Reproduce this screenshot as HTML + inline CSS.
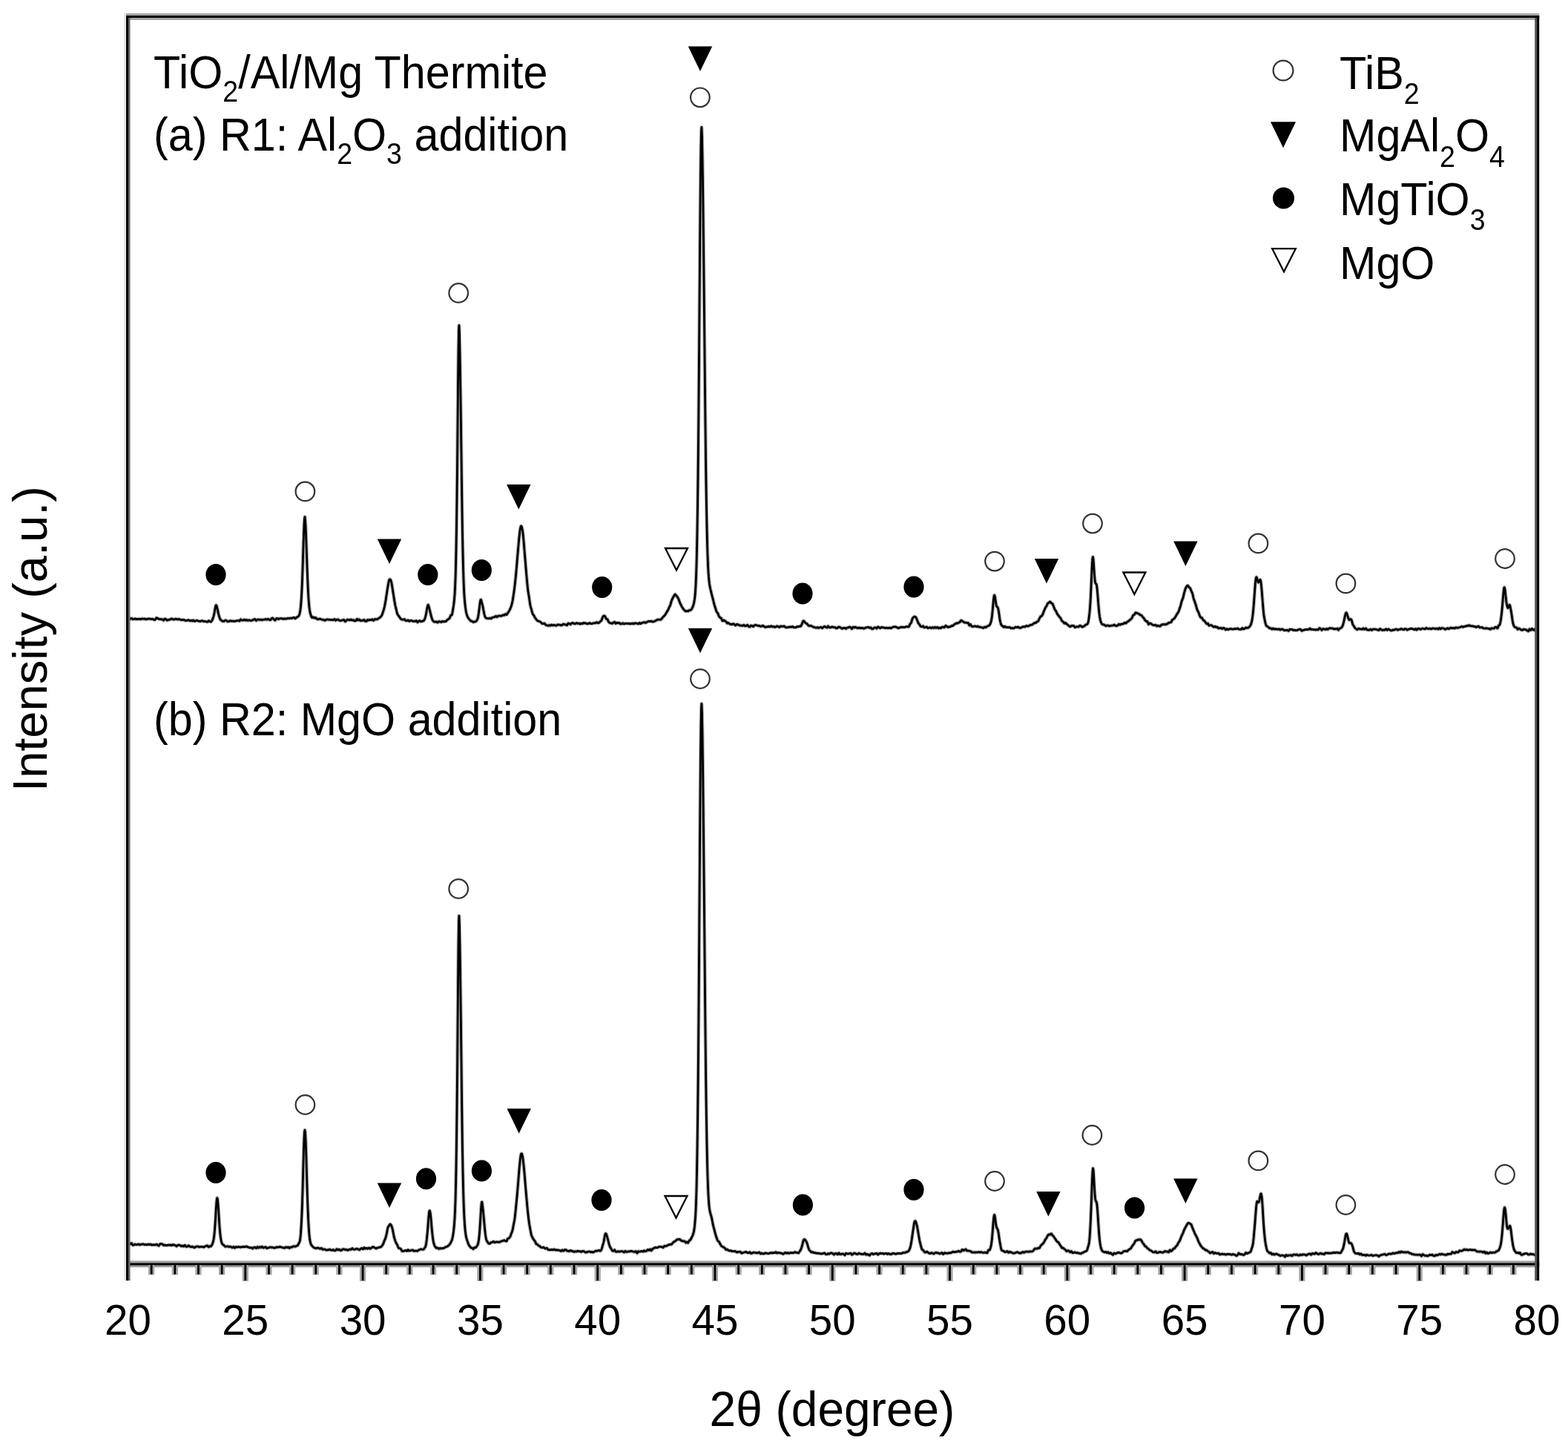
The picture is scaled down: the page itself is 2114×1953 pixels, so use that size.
<!DOCTYPE html>
<html><head><meta charset="utf-8"><title>XRD patterns</title>
<style>html,body{margin:0;padding:0;background:#fff;overflow:hidden}svg{display:block}.sb{font-size:37.5px}</style></head>
<body>
<svg width="2114" height="1953" viewBox="0 0 2114 1953">
<style>text{font-family:'Liberation Sans', Arial, Helvetica, sans-serif;fill:#000}.tl{font-size:56.5px}.lg{font-size:59.3px}.ax{font-size:64px}.ay{font-size:65px}</style>
<rect width="2114" height="1953" fill="#fff"/>
<defs><path id="sa" d="M174.0,834.6 174.5,834.5 175.0,834.4 175.5,834.3 176.0,834.0 176.5,833.7 177.0,833.3 177.5,833.3 178.0,833.8 178.5,834.3 179.0,834.7 179.5,834.6 180.0,834.5 180.5,834.4 181.0,834.2 181.5,834.0 182.0,833.8 182.5,834.0 183.0,834.2 183.5,834.5 184.0,834.5 184.5,834.5 185.0,834.5 185.5,834.4 186.0,834.4 186.5,834.4 187.0,834.4 187.5,834.3 188.0,834.3 188.5,834.2 189.0,834.4 189.5,834.5 190.0,834.6 190.5,834.4 191.0,834.1 191.5,833.9 192.0,833.8 192.5,834.0 193.0,834.1 193.5,834.2 194.0,834.1 194.5,834.0 195.0,834.0 195.5,834.3 196.0,834.5 196.5,834.8 197.0,834.7 197.5,834.5 198.0,834.4 198.5,834.3 199.0,834.3 199.5,834.2 200.0,834.1 200.5,834.0 201.0,833.9 201.5,833.9 202.0,834.0 202.5,834.2 203.0,834.3 203.5,834.3 204.0,834.4 204.5,834.5 205.0,834.4 205.5,834.4 206.0,834.3 206.5,834.6 207.0,834.9 207.5,835.3 208.0,835.4 208.5,835.3 209.0,835.3 209.5,834.9 210.0,834.1 210.5,833.3 211.0,832.7 211.5,832.9 212.0,833.1 212.5,833.3 213.0,833.7 213.5,834.0 214.0,834.4 214.5,834.5 215.0,834.4 215.5,834.4 216.0,834.4 216.5,834.6 217.0,834.7 217.5,834.8 218.0,834.8 218.5,834.8 219.0,834.9 219.5,835.3 220.0,835.8 220.5,836.2 221.0,835.5 221.5,834.8 222.0,834.1 222.5,834.1 223.0,834.3 223.5,834.4 224.0,834.8 224.5,835.4 225.0,835.9 225.5,836.1 226.0,835.8 226.5,835.5 227.0,835.3 227.5,835.3 228.0,835.3 228.5,835.3 229.0,835.0 229.5,834.8 230.0,834.5 230.5,834.3 231.0,834.1 231.5,833.8 232.0,834.0 232.5,834.4 233.0,834.8 233.5,835.0 234.0,835.0 234.5,835.0 235.0,834.9 235.5,834.7 236.0,834.4 236.5,834.1 237.0,834.2 237.5,834.3 238.0,834.5 238.5,834.6 239.0,834.7 239.5,834.9 240.0,834.8 240.5,834.7 241.0,834.5 241.5,834.5 242.0,834.8 242.5,835.0 243.0,835.2 243.5,835.3 244.0,835.3 244.5,835.4 245.0,835.5 245.5,835.5 246.0,835.5 246.5,835.5 247.0,835.4 247.5,835.3 248.0,835.4 248.5,835.7 249.0,836.0 249.5,836.2 250.0,836.3 250.5,836.4 251.0,836.5 251.5,836.4 252.0,836.3 252.5,836.2 253.0,836.0 253.5,835.8 254.0,835.6 254.5,835.9 255.0,836.2 255.5,836.6 256.0,836.6 256.5,836.4 257.0,836.2 257.5,836.2 258.0,836.5 258.5,836.8 259.0,837.0 259.5,836.7 260.0,836.3 260.5,835.9 261.0,836.4 261.5,836.8 262.0,837.3 262.5,837.3 263.0,837.1 263.5,836.9 264.0,836.7 264.5,836.5 265.0,836.3 265.5,836.2 266.0,836.5 266.5,836.7 267.0,836.9 267.5,837.0 268.0,837.1 268.5,837.3 269.0,837.3 269.5,837.4 270.0,837.5 270.5,837.3 271.0,837.1 271.5,836.8 272.0,836.7 272.5,836.7 273.0,836.7 273.5,836.9 274.0,837.2 274.5,837.5 275.0,837.7 275.5,837.6 276.0,837.5 276.5,837.4 277.0,837.5 277.5,837.7 278.0,837.9 278.5,838.0 279.0,838.1 279.5,838.2 280.0,838.0 280.5,837.4 281.0,836.9 281.5,836.7 282.0,837.1 282.5,837.4 283.0,837.7 283.5,837.9 284.0,838.0 284.5,838.0 285.0,837.4 285.5,836.7 286.0,835.9 286.5,834.9 287.0,833.6 287.5,832.1 288.0,830.3 288.5,828.3 289.0,826.0 289.5,823.2 290.0,820.2 290.5,817.6 291.0,816.0 291.4,815.7 291.5,815.8 292.0,816.6 292.5,818.4 293.0,820.3 293.5,822.6 294.0,825.0 294.5,827.2 295.0,829.2 295.5,830.8 296.0,832.3 296.5,833.7 297.0,834.8 297.5,835.6 298.0,835.9 298.5,836.1 299.0,836.4 299.5,836.8 300.0,837.2 300.5,837.5 301.0,837.4 301.5,837.4 302.0,837.3 302.5,837.0 303.0,836.6 303.5,836.2 304.0,836.1 304.5,836.2 305.0,836.3 305.5,836.5 306.0,837.0 306.5,837.4 307.0,837.8 307.5,837.7 308.0,837.7 308.5,837.6 309.0,837.3 309.5,837.0 310.0,836.7 310.5,836.7 311.0,836.8 311.5,837.0 312.0,837.1 312.5,837.1 313.0,837.2 313.5,837.2 314.0,837.2 314.5,837.2 315.0,837.2 315.5,837.3 316.0,837.3 316.5,837.4 317.0,837.2 317.5,837.1 318.0,836.9 318.5,836.8 319.0,836.7 319.5,836.6 320.0,836.5 320.5,836.4 321.0,836.4 321.5,836.4 322.0,836.7 322.5,837.0 323.0,837.0 323.5,836.3 324.0,835.5 324.5,834.8 325.0,835.2 325.5,835.6 326.0,836.0 326.5,836.1 327.0,836.2 327.5,836.2 328.0,836.0 328.5,835.6 329.0,835.3 329.5,835.2 330.0,835.5 330.5,835.9 331.0,836.2 331.5,835.9 332.0,835.7 332.5,835.5 333.0,835.8 333.5,836.1 334.0,836.4 334.5,836.3 335.0,836.0 335.5,835.8 336.0,835.8 336.5,836.0 337.0,836.1 337.5,836.3 338.0,836.4 338.5,836.5 339.0,836.5 339.5,836.3 340.0,836.1 340.5,835.9 341.0,835.6 341.5,835.3 342.0,835.0 342.5,834.8 343.0,834.7 343.5,834.5 344.0,834.9 344.5,835.6 345.0,836.3 345.5,836.5 346.0,836.1 346.5,835.7 347.0,835.3 347.5,835.2 348.0,835.0 348.5,834.9 349.0,835.0 349.5,835.2 350.0,835.4 350.5,835.3 351.0,835.2 351.5,835.1 352.0,835.2 352.5,835.4 353.0,835.6 353.5,835.7 354.0,835.5 354.5,835.3 355.0,835.1 355.5,835.1 356.0,835.1 356.5,835.1 357.0,834.9 357.5,834.7 358.0,834.5 358.5,834.7 359.0,834.9 359.5,835.2 360.0,835.0 360.5,834.7 361.0,834.4 361.5,834.3 362.0,834.6 362.5,835.0 363.0,835.3 363.5,835.5 364.0,835.6 364.5,835.8 365.0,835.1 365.5,834.4 366.0,833.7 366.5,833.4 367.0,833.2 367.5,833.0 368.0,833.3 368.5,833.9 369.0,834.6 369.5,835.1 370.0,835.5 370.5,835.9 371.0,836.1 371.5,835.3 372.0,834.5 372.5,833.7 373.0,833.6 373.5,833.5 374.0,833.5 374.5,833.7 375.0,834.1 375.5,834.5 376.0,834.4 376.5,834.1 377.0,833.8 377.5,833.6 378.0,833.6 378.5,833.7 379.0,833.7 379.5,833.7 380.0,833.7 380.5,833.8 381.0,833.9 381.5,834.1 382.0,834.3 382.5,834.2 383.0,834.0 383.5,833.8 384.0,833.8 384.5,833.9 385.0,834.1 385.5,834.1 386.0,834.0 386.5,833.9 387.0,833.8 387.5,833.6 388.0,833.4 388.5,833.3 389.0,833.4 389.5,833.5 390.0,833.5 390.5,833.4 391.0,833.3 391.5,833.1 392.0,833.1 392.5,833.3 393.0,833.5 393.5,833.4 394.0,833.1 394.5,832.8 395.0,832.6 395.5,832.5 396.0,832.4 396.5,832.3 397.0,832.8 397.5,833.2 398.0,833.7 398.5,833.4 399.0,832.9 399.5,832.4 400.0,832.0 400.5,831.8 401.0,831.5 401.5,831.2 402.0,830.9 402.5,830.5 403.0,829.8 403.5,828.6 404.0,826.9 404.5,824.5 405.0,821.5 405.5,817.2 406.0,811.3 406.5,803.5 407.0,793.5 407.5,781.4 408.0,767.2 408.5,751.5 409.0,735.4 409.5,720.1 410.0,707.5 410.5,699.3 411.0,696.6 411.0,696.7 411.5,700.2 412.0,708.4 412.5,720.2 413.0,733.4 413.5,747.9 414.0,762.3 414.5,776.0 415.0,788.2 415.5,798.5 416.0,806.9 416.5,813.5 417.0,818.6 417.5,822.4 418.0,825.2 418.5,827.3 419.0,828.8 419.5,830.3 420.0,831.5 420.5,832.4 421.0,832.3 421.5,832.0 422.0,831.7 422.5,832.0 423.0,832.6 423.5,833.0 424.0,833.0 424.5,832.7 425.0,832.3 425.5,832.3 426.0,832.9 426.5,833.5 427.0,834.0 427.5,834.3 428.0,834.6 428.5,834.8 429.0,834.7 429.5,834.5 430.0,834.3 430.5,834.2 431.0,834.2 431.5,834.2 432.0,834.3 432.5,834.5 433.0,834.8 433.5,835.0 434.0,835.1 434.5,835.2 435.0,835.3 435.5,835.4 436.0,835.4 436.5,835.4 437.0,835.7 437.5,836.1 438.0,836.4 438.5,836.1 439.0,835.8 439.5,835.4 440.0,835.2 440.5,835.0 441.0,834.9 441.5,834.8 442.0,835.0 442.5,835.1 443.0,835.2 443.5,835.2 444.0,835.2 444.5,835.3 445.0,835.3 445.5,835.4 446.0,835.4 446.5,835.4 447.0,835.4 447.5,835.4 448.0,835.4 448.5,835.5 449.0,835.6 449.5,835.4 450.0,835.1 450.5,834.7 451.0,834.5 451.5,835.0 452.0,835.6 452.5,836.2 453.0,835.9 453.5,835.6 454.0,835.3 454.5,835.1 455.0,835.0 455.5,834.9 456.0,835.1 456.5,835.5 457.0,835.9 457.5,836.2 458.0,836.4 458.5,836.5 459.0,836.6 459.5,836.4 460.0,836.3 460.5,836.1 461.0,836.0 461.5,836.0 462.0,835.9 462.5,835.7 463.0,835.5 463.5,835.3 464.0,835.7 464.5,836.5 465.0,837.3 465.5,837.7 466.0,837.3 466.5,836.8 467.0,836.4 467.5,836.0 468.0,835.5 468.5,835.1 469.0,835.2 469.5,835.3 470.0,835.3 470.5,835.5 471.0,835.7 471.5,835.9 472.0,835.8 472.5,835.4 473.0,835.1 473.5,835.0 474.0,835.4 474.5,835.8 475.0,836.1 475.5,835.9 476.0,835.8 476.5,835.7 477.0,836.0 477.5,836.4 478.0,836.8 478.5,836.8 479.0,836.8 479.5,836.7 480.0,836.2 480.5,835.4 481.0,834.6 481.5,834.4 482.0,835.0 482.5,835.6 483.0,836.0 483.5,835.6 484.0,835.3 484.5,834.9 485.0,835.5 485.5,836.1 486.0,836.7 486.5,836.7 487.0,836.5 487.5,836.2 488.0,836.2 488.5,836.3 489.0,836.4 489.5,836.3 490.0,835.9 490.5,835.6 491.0,835.4 491.5,836.0 492.0,836.7 492.5,837.3 493.0,837.3 493.5,837.3 494.0,837.4 494.5,836.8 495.0,836.1 495.5,835.5 496.0,835.4 496.5,835.7 497.0,835.9 497.5,836.0 498.0,835.8 498.5,835.5 499.0,835.3 499.5,835.4 500.0,835.6 500.5,835.7 501.0,835.4 501.5,835.0 502.0,834.7 502.5,835.2 503.0,835.8 503.5,836.4 504.0,836.3 504.5,835.6 505.0,834.9 505.5,834.5 506.0,834.6 506.5,834.6 507.0,834.7 507.5,834.7 508.0,834.8 508.5,834.8 509.0,834.4 509.5,834.0 510.0,833.5 510.5,833.3 511.0,833.1 511.5,832.9 512.0,832.6 512.5,832.1 513.0,831.5 513.5,830.9 514.0,830.4 514.5,829.7 515.0,828.8 515.5,827.5 516.0,826.0 516.5,824.4 517.0,822.9 517.5,821.3 518.0,819.4 518.5,817.2 519.0,814.7 519.5,812.1 520.0,809.2 520.5,806.0 521.0,802.7 521.5,799.4 522.0,796.2 522.5,793.0 523.0,789.9 523.5,786.9 524.0,784.4 524.5,782.4 525.0,781.2 525.5,780.8 525.8,780.8 526.0,781.0 526.5,781.5 527.0,782.5 527.5,784.1 528.0,786.4 528.5,789.2 529.0,792.3 529.5,795.5 530.0,798.7 530.5,801.9 531.0,805.0 531.5,808.2 532.0,811.2 532.5,814.0 533.0,816.5 533.5,818.7 534.0,820.6 534.5,822.8 535.0,824.9 535.5,826.8 536.0,828.0 536.5,828.8 537.0,829.4 537.5,830.1 538.0,830.9 538.5,831.6 539.0,832.3 539.5,833.0 540.0,833.7 540.5,834.3 541.0,834.6 541.5,834.8 542.0,835.1 542.5,835.2 543.0,835.2 543.5,835.2 544.0,835.0 544.5,834.8 545.0,834.6 545.5,834.7 546.0,835.4 546.5,836.0 547.0,836.5 547.5,836.6 548.0,836.6 548.5,836.7 549.0,836.4 549.5,836.1 550.0,835.8 550.5,836.1 551.0,836.7 551.5,837.2 552.0,837.3 552.5,837.0 553.0,836.7 553.5,836.5 554.0,836.5 554.5,836.4 555.0,836.4 555.5,836.7 556.0,837.0 556.5,837.3 557.0,837.3 557.5,837.3 558.0,837.2 558.5,837.3 559.0,837.4 559.5,837.5 560.0,837.3 560.5,836.9 561.0,836.6 561.5,836.7 562.0,837.5 562.5,838.2 563.0,838.8 563.5,838.2 564.0,837.7 564.5,837.2 565.0,837.0 565.5,836.8 566.0,836.6 566.5,836.9 567.0,837.4 567.5,837.8 568.0,837.8 568.5,837.6 569.0,837.3 569.5,837.1 570.0,837.1 570.5,837.0 571.0,836.8 571.5,836.2 572.0,835.4 572.5,834.4 573.0,833.2 573.5,831.7 574.0,829.7 574.5,827.3 575.0,824.5 575.5,821.7 576.0,818.9 576.5,816.7 577.0,815.5 577.2,815.3 577.5,815.6 578.0,817.0 578.5,818.8 579.0,820.9 579.5,822.8 580.0,824.9 580.5,827.0 581.0,829.2 581.5,831.0 582.0,832.6 582.5,834.1 583.0,835.3 583.5,836.3 584.0,837.0 584.5,837.5 585.0,837.9 585.5,838.2 586.0,838.2 586.5,838.2 587.0,838.2 587.5,838.1 588.0,838.0 588.5,838.0 589.0,838.3 589.5,838.7 590.0,839.0 590.5,838.7 591.0,838.2 591.5,837.7 592.0,837.6 592.5,837.7 593.0,837.8 593.5,838.0 594.0,838.2 594.5,838.4 595.0,838.5 595.5,838.1 596.0,837.7 596.5,837.3 597.0,837.5 597.5,837.7 598.0,837.9 598.5,837.9 599.0,837.7 599.5,837.5 600.0,837.5 600.5,837.5 601.0,837.5 601.5,837.3 602.0,836.6 602.5,836.0 603.0,835.4 603.5,835.1 604.0,834.8 604.5,834.4 605.0,834.2 605.5,833.9 606.0,833.5 606.5,832.4 607.0,831.0 607.5,829.6 608.0,829.1 608.5,829.2 609.0,829.1 609.5,828.1 610.0,825.5 610.5,822.6 611.0,819.5 611.5,816.5 612.0,812.8 612.5,807.9 613.0,801.7 613.5,793.0 614.0,781.0 614.5,763.9 615.0,740.7 615.5,710.4 616.0,672.1 616.5,626.0 617.0,574.2 617.5,521.4 618.0,475.7 618.5,446.2 618.9,438.6 619.0,438.9 619.5,451.3 620.0,475.7 620.5,505.5 621.0,537.8 621.5,573.4 622.0,611.9 622.5,651.0 623.0,687.4 623.5,719.0 624.0,745.1 624.5,765.9 625.0,782.1 625.5,794.3 626.0,803.1 626.5,809.6 627.0,814.6 627.5,818.8 628.0,822.2 628.5,825.0 629.0,827.1 629.5,828.8 630.0,830.3 630.5,831.4 631.0,832.4 631.5,833.2 632.0,833.9 632.5,834.6 633.0,835.1 633.5,835.5 634.0,836.2 634.5,836.7 635.0,837.1 635.5,837.2 636.0,837.2 636.5,837.2 637.0,837.7 637.5,838.1 638.0,838.6 638.5,838.5 639.0,838.3 639.5,838.0 640.0,837.9 640.5,837.9 641.0,837.9 641.5,837.6 642.0,837.2 642.5,836.6 643.0,835.8 643.5,834.9 644.0,833.6 644.5,831.8 645.0,829.1 645.5,825.7 646.0,821.7 646.5,817.6 647.0,813.6 647.5,810.3 648.0,808.4 648.3,808.2 648.5,808.4 649.0,809.8 649.5,811.8 650.0,813.6 650.5,815.6 651.0,817.8 651.5,820.6 652.0,823.3 652.5,825.8 653.0,828.1 653.5,829.9 654.0,831.3 654.5,832.2 655.0,832.7 655.5,833.1 656.0,833.3 656.5,833.4 657.0,833.4 657.5,833.4 658.0,833.6 658.5,833.7 659.0,833.7 659.5,833.5 660.0,833.3 660.5,833.1 661.0,833.3 661.5,833.6 662.0,833.8 662.5,833.5 663.0,833.0 663.5,832.5 664.0,832.2 664.5,832.1 665.0,832.0 665.5,831.9 666.0,831.9 666.5,831.8 667.0,831.6 667.5,831.2 668.0,830.7 668.5,830.4 669.0,830.8 669.5,831.2 670.0,831.6 670.5,831.3 671.0,830.8 671.5,830.4 672.0,830.2 672.5,830.1 673.0,830.0 673.5,830.0 674.0,830.1 674.5,830.1 675.0,830.2 675.5,830.1 676.0,830.1 676.5,830.1 677.0,829.7 677.5,829.3 678.0,828.9 678.5,829.0 679.0,829.1 679.5,829.3 680.0,829.0 680.5,828.4 681.0,827.9 681.5,827.7 682.0,828.1 682.5,828.4 683.0,828.6 683.5,827.9 684.0,827.1 684.5,826.3 685.0,825.7 685.5,824.9 686.0,824.1 686.5,823.3 687.0,822.4 687.5,821.3 688.0,820.2 688.5,819.0 689.0,817.7 689.5,816.2 690.0,814.3 690.5,812.3 691.0,810.0 691.5,807.2 692.0,804.1 692.5,800.8 693.0,797.3 693.5,793.5 694.0,789.3 694.5,785.0 695.0,780.3 695.5,775.3 696.0,769.9 696.5,764.1 697.0,758.1 697.5,752.1 698.0,746.3 698.5,740.5 699.0,734.8 699.5,729.2 700.0,724.0 700.5,719.5 701.0,715.4 701.5,712.2 702.0,710.0 702.5,709.1 702.7,709.0 703.0,709.3 703.5,710.6 704.0,712.6 704.5,715.3 705.0,718.9 705.5,723.5 706.0,729.1 706.5,735.2 707.0,741.5 707.5,747.5 708.0,753.5 708.5,759.5 709.0,765.7 709.5,771.6 710.0,777.4 710.5,782.9 711.0,788.2 711.5,793.1 712.0,797.1 712.5,800.2 713.0,803.1 713.5,806.2 714.0,809.9 714.5,813.2 715.0,816.1 715.5,818.1 716.0,819.9 716.5,821.4 717.0,823.5 717.5,825.3 718.0,827.0 718.5,828.0 719.0,828.6 719.5,829.2 720.0,830.0 720.5,831.0 721.0,831.9 721.5,832.7 722.0,833.5 722.5,834.2 723.0,834.8 723.5,835.4 724.0,835.9 724.5,836.4 725.0,836.7 725.5,837.0 726.0,837.2 726.5,837.4 727.0,837.5 727.5,837.6 728.0,837.9 728.5,838.2 729.0,838.5 729.5,839.0 730.0,839.5 730.5,840.1 731.0,840.5 731.5,840.6 732.0,840.6 732.5,840.6 733.0,840.4 733.5,840.3 734.0,840.1 734.5,840.7 735.0,841.4 735.5,842.1 736.0,842.5 736.5,842.6 737.0,842.6 737.5,842.8 738.0,843.0 738.5,843.3 739.0,843.4 739.5,843.1 740.0,842.9 740.5,842.6 741.0,842.8 741.5,843.1 742.0,843.3 742.5,843.1 743.0,842.6 743.5,842.2 744.0,842.2 744.5,842.6 745.0,842.9 745.5,843.0 746.0,842.8 746.5,842.5 747.0,842.4 747.5,842.6 748.0,842.8 748.5,843.1 749.0,843.1 749.5,843.2 750.0,843.2 750.5,842.9 751.0,842.5 751.5,842.0 752.0,841.9 752.5,842.1 753.0,842.2 753.5,842.2 754.0,842.2 754.5,842.2 755.0,842.2 755.5,842.4 756.0,842.7 756.5,842.9 757.0,842.7 757.5,842.6 758.0,842.4 758.5,842.0 759.0,841.6 759.5,841.1 760.0,841.1 760.5,841.4 761.0,841.7 761.5,841.9 762.0,841.9 762.5,842.0 763.0,842.0 763.5,842.3 764.0,842.5 764.5,842.8 765.0,841.9 765.5,841.0 766.0,840.1 766.5,840.1 767.0,840.3 767.5,840.5 768.0,840.8 768.5,841.2 769.0,841.5 769.5,841.5 770.0,840.8 770.5,840.2 771.0,839.7 771.5,839.7 772.0,839.6 772.5,839.6 773.0,839.9 773.5,840.3 774.0,840.6 774.5,840.7 775.0,840.7 775.5,840.8 776.0,840.5 776.5,840.1 777.0,839.8 777.5,839.7 778.0,839.9 778.5,840.2 779.0,840.4 779.5,840.3 780.0,840.2 780.5,840.1 781.0,840.4 781.5,840.8 782.0,841.1 782.5,840.9 783.0,840.5 783.5,840.2 784.0,840.2 784.5,840.4 785.0,840.7 785.5,840.6 786.0,840.2 786.5,839.8 787.0,839.5 787.5,839.7 788.0,839.8 788.5,840.0 789.0,840.0 789.5,840.0 790.0,840.0 790.5,840.3 791.0,840.5 791.5,840.8 792.0,840.8 792.5,840.7 793.0,840.6 793.5,840.4 794.0,840.1 794.5,839.8 795.0,839.6 795.5,839.9 796.0,840.3 796.5,840.6 797.0,840.6 797.5,840.6 798.0,840.6 798.5,840.4 799.0,840.2 799.5,840.0 800.0,839.9 800.5,839.9 801.0,839.8 801.5,839.8 802.0,839.8 802.5,839.8 803.0,839.7 803.5,839.3 804.0,839.0 804.5,838.6 805.0,839.0 805.5,839.3 806.0,839.7 806.5,839.7 807.0,839.5 807.5,839.4 808.0,839.0 808.5,838.5 809.0,837.9 809.5,837.4 810.0,837.1 810.5,836.8 811.0,836.1 811.5,834.7 812.0,833.2 812.5,831.7 813.0,831.0 813.5,830.4 814.0,830.1 814.5,830.0 814.5,830.0 815.0,830.2 815.5,830.5 816.0,831.3 816.5,832.4 817.0,833.6 817.5,834.3 818.0,834.4 818.5,834.4 819.0,834.7 819.5,835.9 820.0,837.1 820.5,838.1 821.0,838.7 821.5,839.1 822.0,839.5 822.5,839.7 823.0,839.7 823.5,839.8 824.0,839.9 824.5,840.2 825.0,840.4 825.5,840.4 826.0,840.0 826.5,839.5 827.0,839.1 827.5,838.9 828.0,838.6 828.5,838.3 829.0,839.0 829.5,839.7 830.0,840.4 830.5,840.2 831.0,839.8 831.5,839.4 832.0,839.3 832.5,839.6 833.0,839.8 833.5,839.8 834.0,839.7 834.5,839.5 835.0,839.5 835.5,840.0 836.0,840.5 836.5,841.0 837.0,840.9 837.5,840.9 838.0,840.9 838.5,840.6 839.0,840.3 839.5,839.9 840.0,840.0 840.5,840.4 841.0,840.8 841.5,840.9 842.0,840.8 842.5,840.6 843.0,840.5 843.5,840.4 844.0,840.4 844.5,840.3 845.0,840.4 845.5,840.4 846.0,840.5 846.5,840.4 847.0,840.4 847.5,840.3 848.0,840.4 848.5,840.6 849.0,840.8 849.5,840.9 850.0,840.8 850.5,840.7 851.0,840.6 851.5,840.5 852.0,840.3 852.5,840.1 853.0,840.4 853.5,840.6 854.0,840.9 854.5,840.7 855.0,840.3 855.5,839.9 856.0,839.8 856.5,840.0 857.0,840.2 857.5,840.2 858.0,840.2 858.5,840.2 859.0,840.3 859.5,840.5 860.0,840.7 860.5,840.9 861.0,840.4 861.5,839.9 862.0,839.4 862.5,839.7 863.0,840.2 863.5,840.6 864.0,840.6 864.5,840.2 865.0,839.8 865.5,839.5 866.0,839.4 866.5,839.3 867.0,839.1 867.5,839.0 868.0,838.8 868.5,838.7 869.0,838.9 869.5,839.1 870.0,839.4 870.5,839.2 871.0,839.1 871.5,838.9 872.0,838.6 872.5,838.3 873.0,837.9 873.5,837.7 874.0,837.6 874.5,837.5 875.0,837.4 875.5,837.5 876.0,837.5 876.5,837.5 877.0,837.4 877.5,837.3 878.0,837.2 878.5,837.4 879.0,837.7 879.5,837.9 880.0,838.0 880.5,838.0 881.0,837.9 881.5,837.8 882.0,837.6 882.5,837.3 883.0,837.1 883.5,836.8 884.0,836.6 884.5,836.3 885.0,836.0 885.5,835.7 886.0,835.4 886.5,835.3 887.0,835.2 887.5,835.2 888.0,835.1 888.5,835.1 889.0,835.1 889.5,835.1 890.0,835.2 890.5,835.2 891.0,835.1 891.5,834.5 892.0,834.0 892.5,833.4 893.0,832.8 893.5,832.1 894.0,831.5 894.5,831.0 895.0,830.6 895.5,830.2 896.0,829.6 896.5,828.9 897.0,828.2 897.5,827.4 898.0,826.6 898.5,825.7 899.0,824.8 899.5,824.1 900.0,823.2 900.5,822.3 901.0,821.3 901.5,820.2 902.0,819.1 902.5,818.1 903.0,817.1 903.5,816.1 904.0,814.6 904.5,812.8 905.0,810.9 905.5,809.4 906.0,808.2 906.5,807.2 907.0,806.2 907.5,805.1 908.0,804.2 908.5,803.5 909.0,802.5 909.5,801.7 910.0,801.1 910.3,801.1 910.5,801.2 911.0,801.8 911.5,802.5 912.0,803.1 912.5,803.6 913.0,804.3 913.5,805.0 914.0,805.9 914.5,806.8 915.0,807.8 915.5,809.2 916.0,810.6 916.5,811.9 917.0,813.1 917.5,814.2 918.0,815.2 918.5,816.2 919.0,817.1 919.5,818.0 920.0,818.8 920.5,819.6 921.0,820.3 921.5,821.0 922.0,821.7 922.5,822.2 923.0,822.8 923.5,823.2 924.0,823.6 924.5,823.9 925.0,823.8 925.5,823.7 926.0,823.5 926.5,823.6 927.0,823.7 927.5,823.9 928.0,823.6 928.5,823.2 929.0,822.7 929.5,822.4 930.0,822.5 930.5,822.5 931.0,822.4 931.5,822.0 932.0,821.5 932.5,820.9 933.0,819.9 933.5,818.9 934.0,817.7 934.5,816.4 935.0,814.9 935.5,813.0 936.0,810.6 936.5,807.4 937.0,803.2 937.5,797.3 938.0,789.1 938.5,777.9 939.0,763.0 939.5,743.4 940.0,717.8 940.5,685.3 941.0,645.3 941.5,597.6 942.0,542.6 942.5,481.6 943.0,416.9 943.5,351.6 944.0,290.0 944.5,237.0 945.0,197.7 945.5,175.8 945.9,171.5 946.0,172.3 946.5,184.9 947.0,210.0 947.5,243.3 948.0,283.0 948.5,327.3 949.0,375.8 949.5,426.4 950.0,477.6 950.5,527.2 951.0,573.6 951.5,615.8 952.0,652.6 952.5,684.0 953.0,710.1 953.5,731.3 954.0,748.1 954.5,761.0 955.0,770.8 955.5,777.9 956.0,783.1 956.5,786.9 957.0,790.0 957.5,792.6 958.0,794.8 958.5,796.9 959.0,798.9 959.5,801.0 960.0,802.9 960.5,804.8 961.0,806.7 961.5,808.7 962.0,810.8 962.5,812.8 963.0,814.7 963.5,816.4 964.0,818.0 964.5,819.5 965.0,821.2 965.5,822.8 966.0,824.3 966.5,825.1 967.0,825.6 967.5,826.0 968.0,827.1 968.5,828.5 969.0,829.8 969.5,830.8 970.0,831.5 970.5,832.1 971.0,832.6 971.5,832.8 972.0,833.1 972.5,833.3 973.0,834.5 973.5,835.7 974.0,836.9 974.5,836.8 975.0,836.4 975.5,836.0 976.0,836.0 976.5,836.4 977.0,836.8 977.5,837.1 978.0,837.3 978.5,837.6 979.0,837.9 979.5,838.6 980.0,839.4 980.5,840.1 981.0,839.9 981.5,839.6 982.0,839.4 982.5,839.8 983.0,840.3 983.5,840.8 984.0,841.1 984.5,841.3 985.0,841.4 985.5,841.5 986.0,841.5 986.5,841.5 987.0,841.5 987.5,841.2 988.0,841.0 988.5,840.7 989.0,840.9 989.5,841.2 990.0,841.4 990.5,841.9 991.0,842.4 991.5,843.0 992.0,842.9 992.5,842.3 993.0,841.7 993.5,841.4 994.0,841.6 994.5,841.7 995.0,841.9 995.5,842.1 996.0,842.3 996.5,842.4 997.0,842.7 997.5,843.0 998.0,843.2 998.5,843.2 999.0,843.1 999.5,843.0 1000.0,843.1 1000.5,843.2 1001.0,843.4 1001.5,843.3 1002.0,842.9 1002.5,842.6 1003.0,842.4 1003.5,842.8 1004.0,843.3 1004.5,843.8 1005.0,843.7 1005.5,843.7 1006.0,843.6 1006.5,843.3 1007.0,842.8 1007.5,842.4 1008.0,842.6 1008.5,843.3 1009.0,844.0 1009.5,844.5 1010.0,844.7 1010.5,844.9 1011.0,844.9 1011.5,844.3 1012.0,843.6 1012.5,843.0 1013.0,843.2 1013.5,843.4 1014.0,843.6 1014.5,843.8 1015.0,844.2 1015.5,844.5 1016.0,844.2 1016.5,843.6 1017.0,843.0 1017.5,842.6 1018.0,842.5 1018.5,842.4 1019.0,842.4 1019.5,842.5 1020.0,842.7 1020.5,842.9 1021.0,843.0 1021.5,843.2 1022.0,843.4 1022.5,843.4 1023.0,843.4 1023.5,843.4 1024.0,843.6 1024.5,843.9 1025.0,844.2 1025.5,844.3 1026.0,844.2 1026.5,844.2 1027.0,844.1 1027.5,843.7 1028.0,843.4 1028.5,843.1 1029.0,843.5 1029.5,843.9 1030.0,844.3 1030.5,844.6 1031.0,844.9 1031.5,845.3 1032.0,845.3 1032.5,845.2 1033.0,845.0 1033.5,844.9 1034.0,844.9 1034.5,844.9 1035.0,844.8 1035.5,844.6 1036.0,844.4 1036.5,844.2 1037.0,844.5 1037.5,844.7 1038.0,844.9 1038.5,844.6 1039.0,844.2 1039.5,843.8 1040.0,843.9 1040.5,844.3 1041.0,844.7 1041.5,844.8 1042.0,844.7 1042.5,844.5 1043.0,844.4 1043.5,844.7 1044.0,845.0 1044.5,845.3 1045.0,845.1 1045.5,845.0 1046.0,844.9 1046.5,844.6 1047.0,844.3 1047.5,843.9 1048.0,844.0 1048.5,844.3 1049.0,844.5 1049.5,844.8 1050.0,845.1 1050.5,845.3 1051.0,845.4 1051.5,844.9 1052.0,844.4 1052.5,843.9 1053.0,844.0 1053.5,844.2 1054.0,844.3 1054.5,844.3 1055.0,844.3 1055.5,844.3 1056.0,844.1 1056.5,844.0 1057.0,843.9 1057.5,844.0 1058.0,844.5 1058.5,845.1 1059.0,845.5 1059.5,845.6 1060.0,845.7 1060.5,845.8 1061.0,845.7 1061.5,845.6 1062.0,845.5 1062.5,845.4 1063.0,845.3 1063.5,845.2 1064.0,845.1 1064.5,845.0 1065.0,845.0 1065.5,845.0 1066.0,845.0 1066.5,845.1 1067.0,845.1 1067.5,844.9 1068.0,844.7 1068.5,844.5 1069.0,844.8 1069.5,845.2 1070.0,845.6 1070.5,845.6 1071.0,845.7 1071.5,845.7 1072.0,845.7 1072.5,845.7 1073.0,845.6 1073.5,845.5 1074.0,845.1 1074.5,844.8 1075.0,844.5 1075.5,844.6 1076.0,844.7 1076.5,844.7 1077.0,844.5 1077.5,844.3 1078.0,844.1 1078.5,844.1 1079.0,844.2 1079.5,844.1 1080.0,843.5 1080.5,842.5 1081.0,841.4 1081.5,840.2 1082.0,838.9 1082.5,837.7 1083.0,836.8 1083.5,836.8 1084.0,837.2 1084.0,837.2 1084.5,837.8 1085.0,838.4 1085.5,839.1 1086.0,839.8 1086.5,840.0 1087.0,840.2 1087.5,840.4 1088.0,840.8 1088.5,841.4 1089.0,842.1 1089.5,842.6 1090.0,843.0 1090.5,843.3 1091.0,843.6 1091.5,843.5 1092.0,843.4 1092.5,843.2 1093.0,843.4 1093.5,843.6 1094.0,843.8 1094.5,844.0 1095.0,844.2 1095.5,844.4 1096.0,844.7 1096.5,845.0 1097.0,845.2 1097.5,845.5 1098.0,845.6 1098.5,845.7 1099.0,845.8 1099.5,846.0 1100.0,846.1 1100.5,846.2 1101.0,846.0 1101.5,845.8 1102.0,845.6 1102.5,845.8 1103.0,846.1 1103.5,846.4 1104.0,846.3 1104.5,846.1 1105.0,845.8 1105.5,845.6 1106.0,845.6 1106.5,845.5 1107.0,845.5 1107.5,845.8 1108.0,846.2 1108.5,846.6 1109.0,846.2 1109.5,845.8 1110.0,845.4 1110.5,845.0 1111.0,844.7 1111.5,844.3 1112.0,844.3 1112.5,844.7 1113.0,845.1 1113.5,845.4 1114.0,845.6 1114.5,845.9 1115.0,846.0 1115.5,845.3 1116.0,844.6 1116.5,843.9 1117.0,844.5 1117.5,845.1 1118.0,845.7 1118.5,845.8 1119.0,845.8 1119.5,845.8 1120.0,845.7 1120.5,845.4 1121.0,845.2 1121.5,845.0 1122.0,845.0 1122.5,845.0 1123.0,845.1 1123.5,845.3 1124.0,845.5 1124.5,845.7 1125.0,845.7 1125.5,845.7 1126.0,845.7 1126.5,846.0 1127.0,846.4 1127.5,846.8 1128.0,846.8 1128.5,846.6 1129.0,846.4 1129.5,846.1 1130.0,845.7 1130.5,845.3 1131.0,845.0 1131.5,845.1 1132.0,845.3 1132.5,845.5 1133.0,845.8 1133.5,846.1 1134.0,846.5 1134.5,846.8 1135.0,847.0 1135.5,847.3 1136.0,847.2 1136.5,846.8 1137.0,846.5 1137.5,846.3 1138.0,846.3 1138.5,846.3 1139.0,846.3 1139.5,846.7 1140.0,847.0 1140.5,847.4 1141.0,846.9 1141.5,846.5 1142.0,846.1 1142.5,846.0 1143.0,845.9 1143.5,845.9 1144.0,845.7 1144.5,845.4 1145.0,845.2 1145.5,845.1 1146.0,845.3 1146.5,845.5 1147.0,845.8 1147.5,846.4 1148.0,847.0 1148.5,847.6 1149.0,846.8 1149.5,846.0 1150.0,845.2 1150.5,845.3 1151.0,845.6 1151.5,845.9 1152.0,845.9 1152.5,845.5 1153.0,845.2 1153.5,845.2 1154.0,845.5 1154.5,845.9 1155.0,846.2 1155.5,846.3 1156.0,846.5 1156.5,846.7 1157.0,846.4 1157.5,846.2 1158.0,845.9 1158.5,846.0 1159.0,846.2 1159.5,846.5 1160.0,846.5 1160.5,846.5 1161.0,846.5 1161.5,846.5 1162.0,846.4 1162.5,846.4 1163.0,846.4 1163.5,846.7 1164.0,846.9 1164.5,847.2 1165.0,847.0 1165.5,846.8 1166.0,846.6 1166.5,846.4 1167.0,846.1 1167.5,845.9 1168.0,845.7 1168.5,845.7 1169.0,845.6 1169.5,845.5 1170.0,845.5 1170.5,845.4 1171.0,845.5 1171.5,845.8 1172.0,846.1 1172.5,846.3 1173.0,846.2 1173.5,846.0 1174.0,845.8 1174.5,846.3 1175.0,847.0 1175.5,847.7 1176.0,847.8 1176.5,847.6 1177.0,847.4 1177.5,847.1 1178.0,846.7 1178.5,846.2 1179.0,845.9 1179.5,845.9 1180.0,845.8 1180.5,845.8 1181.0,846.3 1181.5,846.7 1182.0,847.1 1182.5,846.6 1183.0,845.8 1183.5,845.1 1184.0,844.9 1184.5,845.2 1185.0,845.6 1185.5,845.9 1186.0,846.2 1186.5,846.5 1187.0,846.7 1187.5,846.2 1188.0,845.8 1188.5,845.4 1189.0,845.5 1189.5,845.6 1190.0,845.7 1190.5,845.8 1191.0,845.8 1191.5,845.8 1192.0,846.0 1192.5,846.2 1193.0,846.4 1193.5,846.5 1194.0,846.4 1194.5,846.3 1195.0,846.2 1195.5,846.2 1196.0,846.3 1196.5,846.4 1197.0,846.4 1197.5,846.4 1198.0,846.5 1198.5,846.4 1199.0,846.3 1199.5,846.1 1200.0,846.2 1200.5,846.5 1201.0,846.7 1201.5,846.7 1202.0,846.3 1202.5,845.9 1203.0,845.5 1203.5,845.4 1204.0,845.2 1204.5,845.0 1205.0,845.0 1205.5,844.9 1206.0,844.8 1206.5,844.8 1207.0,844.9 1207.5,844.9 1208.0,845.0 1208.5,845.3 1209.0,845.5 1209.5,845.8 1210.0,846.1 1210.5,846.4 1211.0,846.7 1211.5,846.5 1212.0,846.3 1212.5,846.1 1213.0,845.9 1213.5,845.7 1214.0,845.6 1214.5,845.4 1215.0,845.3 1215.5,845.2 1216.0,845.2 1216.5,845.3 1217.0,845.4 1217.5,845.5 1218.0,845.5 1218.5,845.5 1219.0,845.4 1219.5,845.4 1220.0,845.3 1220.5,845.2 1221.0,845.0 1221.5,844.7 1222.0,844.5 1222.5,844.5 1223.0,844.6 1223.5,844.7 1224.0,844.8 1224.5,844.9 1225.0,844.9 1225.5,844.5 1226.0,843.3 1226.5,842.1 1227.0,840.9 1227.5,840.5 1228.0,840.0 1228.5,839.3 1229.0,837.7 1229.5,836.0 1230.0,834.2 1230.5,833.2 1231.0,832.6 1231.5,832.2 1232.0,831.6 1232.5,831.2 1232.6,831.2 1233.0,831.1 1233.5,831.2 1234.0,831.4 1234.5,831.7 1235.0,832.2 1235.5,833.3 1236.0,834.5 1236.5,835.8 1237.0,837.0 1237.5,838.3 1238.0,839.7 1238.5,840.4 1239.0,841.0 1239.5,841.5 1240.0,842.2 1240.5,843.1 1241.0,843.9 1241.5,844.5 1242.0,844.6 1242.5,844.7 1243.0,844.6 1243.5,844.4 1244.0,844.1 1244.5,843.8 1245.0,844.5 1245.5,845.2 1246.0,845.8 1246.5,845.8 1247.0,845.7 1247.5,845.5 1248.0,845.4 1248.5,845.2 1249.0,845.0 1249.5,845.0 1250.0,845.6 1250.5,846.1 1251.0,846.5 1251.5,846.4 1252.0,846.3 1252.5,846.2 1253.0,846.0 1253.5,845.8 1254.0,845.7 1254.5,845.9 1255.0,846.2 1255.5,846.5 1256.0,846.4 1256.5,846.0 1257.0,845.6 1257.5,845.5 1258.0,845.9 1258.5,846.2 1259.0,846.4 1259.5,846.0 1260.0,845.7 1260.5,845.3 1261.0,845.6 1261.5,846.0 1262.0,846.3 1262.5,846.0 1263.0,845.7 1263.5,845.3 1264.0,845.5 1264.5,846.0 1265.0,846.6 1265.5,846.8 1266.0,846.5 1266.5,846.2 1267.0,846.0 1267.5,846.2 1268.0,846.5 1268.5,846.7 1269.0,846.2 1269.5,845.7 1270.0,845.1 1270.5,845.1 1271.0,845.1 1271.5,845.1 1272.0,845.3 1272.5,845.5 1273.0,845.8 1273.5,845.6 1274.0,844.8 1274.5,843.9 1275.0,843.3 1275.5,843.6 1276.0,843.9 1276.5,844.2 1277.0,844.6 1277.5,845.0 1278.0,845.4 1278.5,845.3 1279.0,845.1 1279.5,844.8 1280.0,844.8 1280.5,844.8 1281.0,844.8 1281.5,844.6 1282.0,844.2 1282.5,843.8 1283.0,843.5 1283.5,843.5 1284.0,843.5 1284.5,843.6 1285.0,843.1 1285.5,842.7 1286.0,842.2 1286.5,841.8 1287.0,841.5 1287.5,841.1 1288.0,840.8 1288.5,840.5 1289.0,840.2 1289.5,840.0 1290.0,840.0 1290.5,840.0 1291.0,840.0 1291.5,839.7 1292.0,839.5 1292.5,839.3 1293.0,839.0 1293.5,838.8 1294.0,838.6 1294.5,837.9 1295.0,837.1 1295.5,836.4 1296.0,836.2 1296.5,836.5 1297.0,836.8 1297.4,837.1 1297.5,837.1 1298.0,837.5 1298.5,837.8 1299.0,838.2 1299.5,838.5 1300.0,838.8 1300.5,839.1 1301.0,839.1 1301.5,839.1 1302.0,839.1 1302.5,839.2 1303.0,839.4 1303.5,839.5 1304.0,839.6 1304.5,839.5 1305.0,839.4 1305.5,839.8 1306.0,841.0 1306.5,842.2 1307.0,843.0 1307.5,842.6 1308.0,842.1 1308.5,841.6 1309.0,842.4 1309.5,843.2 1310.0,844.0 1310.5,844.3 1311.0,844.4 1311.5,844.5 1312.0,844.5 1312.5,844.4 1313.0,844.2 1313.5,844.1 1314.0,844.0 1314.5,843.9 1315.0,843.9 1315.5,844.2 1316.0,844.4 1316.5,844.7 1317.0,844.5 1317.5,844.2 1318.0,844.0 1318.5,844.3 1319.0,844.6 1319.5,845.0 1320.0,845.1 1320.5,845.1 1321.0,845.1 1321.5,845.2 1322.0,845.3 1322.5,845.5 1323.0,845.6 1323.5,845.7 1324.0,845.8 1324.5,845.9 1325.0,846.1 1325.5,846.3 1326.0,846.4 1326.5,846.1 1327.0,845.6 1327.5,845.1 1328.0,845.1 1328.5,845.3 1329.0,845.6 1329.5,845.6 1330.0,845.1 1330.5,844.6 1331.0,844.1 1331.5,844.0 1332.0,843.8 1332.5,843.5 1333.0,843.3 1333.5,843.0 1334.0,842.7 1334.5,842.0 1335.0,841.0 1335.5,839.7 1336.0,838.2 1336.5,836.3 1337.0,833.6 1337.5,829.9 1338.0,825.1 1338.5,819.6 1339.0,813.8 1339.5,808.5 1340.0,804.4 1340.5,802.4 1340.7,802.2 1341.0,802.6 1341.5,804.8 1342.0,808.1 1342.5,811.6 1343.0,814.5 1343.5,816.6 1344.0,817.6 1344.5,818.0 1345.0,818.5 1345.5,819.7 1346.0,821.8 1346.5,824.6 1347.0,827.8 1347.5,831.4 1348.0,834.7 1348.5,837.5 1349.0,839.5 1349.5,841.1 1350.0,842.3 1350.5,842.9 1351.0,843.3 1351.5,843.4 1352.0,843.9 1352.5,844.5 1353.0,845.1 1353.5,845.3 1354.0,845.0 1354.5,844.6 1355.0,844.3 1355.5,844.8 1356.0,845.2 1356.5,845.6 1357.0,845.6 1357.5,845.5 1358.0,845.5 1358.5,845.5 1359.0,845.6 1359.5,845.6 1360.0,845.6 1360.5,845.5 1361.0,845.4 1361.5,845.5 1362.0,846.0 1362.5,846.4 1363.0,846.8 1363.5,846.7 1364.0,846.6 1364.5,846.5 1365.0,846.7 1365.5,846.8 1366.0,846.9 1366.5,846.8 1367.0,846.5 1367.5,846.3 1368.0,846.0 1368.5,845.7 1369.0,845.3 1369.5,845.2 1370.0,845.4 1370.5,845.5 1371.0,845.6 1371.5,845.4 1372.0,845.2 1372.5,845.0 1373.0,845.3 1373.5,845.7 1374.0,846.0 1374.5,846.1 1375.0,846.3 1375.5,846.4 1376.0,846.3 1376.5,846.0 1377.0,845.8 1377.5,845.5 1378.0,845.3 1378.5,845.0 1379.0,844.8 1379.5,844.8 1380.0,844.7 1380.5,844.7 1381.0,844.7 1381.5,844.8 1382.0,844.8 1382.5,844.5 1383.0,844.0 1383.5,843.6 1384.0,843.5 1384.5,843.7 1385.0,844.0 1385.5,844.1 1386.0,844.0 1386.5,843.8 1387.0,843.7 1387.5,843.4 1388.0,843.0 1388.5,842.7 1389.0,842.6 1389.5,842.4 1390.0,842.3 1390.5,842.2 1391.0,842.1 1391.5,842.0 1392.0,841.7 1392.5,841.2 1393.0,840.8 1393.5,840.4 1394.0,840.1 1394.5,839.8 1395.0,839.6 1395.5,839.6 1396.0,839.6 1396.5,839.6 1397.0,839.1 1397.5,838.5 1398.0,838.0 1398.5,837.8 1399.0,837.6 1399.5,837.4 1400.0,836.7 1400.5,835.5 1401.0,834.3 1401.5,833.3 1402.0,832.5 1402.5,831.6 1403.0,830.9 1403.5,830.7 1404.0,830.5 1404.5,830.2 1405.0,829.4 1405.5,828.5 1406.0,827.5 1406.5,826.3 1407.0,824.9 1407.5,823.5 1408.0,822.3 1408.5,821.1 1409.0,819.9 1409.5,818.9 1410.0,818.2 1410.5,817.5 1411.0,816.8 1411.5,815.5 1412.0,814.4 1412.5,813.3 1413.0,813.0 1413.5,812.7 1414.0,812.6 1414.5,812.1 1415.0,811.5 1415.5,811.0 1415.5,811.0 1416.0,811.2 1416.5,811.8 1417.0,812.5 1417.5,813.0 1418.0,813.1 1418.5,813.2 1419.0,813.7 1419.5,814.8 1420.0,816.1 1420.5,817.3 1421.0,818.6 1421.5,820.0 1422.0,821.3 1422.5,822.1 1423.0,822.7 1423.5,823.3 1424.0,824.3 1424.5,825.5 1425.0,826.7 1425.5,827.7 1426.0,828.3 1426.5,828.9 1427.0,829.4 1427.5,830.2 1428.0,831.0 1428.5,831.7 1429.0,832.2 1429.5,832.8 1430.0,833.3 1430.5,834.4 1431.0,835.5 1431.5,836.6 1432.0,837.2 1432.5,837.5 1433.0,837.7 1433.5,838.2 1434.0,839.0 1434.5,839.8 1435.0,840.3 1435.5,840.1 1436.0,839.8 1436.5,839.5 1437.0,840.1 1437.5,840.6 1438.0,841.1 1438.5,841.4 1439.0,841.7 1439.5,842.1 1440.0,842.5 1440.5,843.0 1441.0,843.5 1441.5,843.9 1442.0,844.2 1442.5,844.4 1443.0,844.6 1443.5,844.2 1444.0,843.8 1444.5,843.4 1445.0,843.4 1445.5,843.4 1446.0,843.5 1446.5,843.4 1447.0,843.4 1447.5,843.4 1448.0,843.8 1448.5,844.6 1449.0,845.4 1449.5,845.7 1450.0,845.5 1450.5,845.2 1451.0,844.9 1451.5,844.8 1452.0,844.7 1452.5,844.6 1453.0,844.7 1453.5,844.9 1454.0,845.0 1454.5,844.5 1455.0,844.0 1455.5,843.4 1456.0,843.2 1456.5,843.4 1457.0,843.5 1457.5,843.8 1458.0,844.3 1458.5,844.8 1459.0,845.1 1459.5,844.9 1460.0,844.7 1460.5,844.4 1461.0,844.2 1461.5,844.0 1462.0,843.7 1462.5,843.3 1463.0,842.7 1463.5,842.2 1464.0,841.9 1464.5,841.9 1465.0,841.7 1465.5,841.5 1466.0,841.0 1466.5,840.3 1467.0,839.1 1467.5,836.7 1468.0,833.6 1468.5,829.6 1469.0,825.4 1469.5,819.7 1470.0,812.4 1470.5,803.1 1471.0,792.3 1471.5,780.5 1472.0,768.9 1472.5,759.0 1473.0,752.4 1473.4,750.6 1473.5,750.6 1474.0,753.5 1474.5,759.8 1475.0,767.5 1475.5,774.8 1476.0,780.6 1476.5,784.4 1477.0,786.3 1477.5,786.8 1478.0,787.1 1478.5,788.7 1479.0,792.1 1479.5,797.3 1480.0,803.4 1480.5,809.8 1481.0,816.0 1481.5,821.6 1482.0,826.5 1482.5,830.4 1483.0,833.6 1483.5,835.9 1484.0,837.6 1484.5,838.9 1485.0,839.9 1485.5,840.8 1486.0,841.5 1486.5,841.7 1487.0,841.7 1487.5,841.7 1488.0,841.9 1488.5,842.1 1489.0,842.3 1489.5,842.6 1490.0,843.0 1490.5,843.4 1491.0,843.7 1491.5,843.5 1492.0,843.3 1492.5,843.0 1493.0,843.1 1493.5,843.1 1494.0,843.1 1494.5,843.3 1495.0,843.5 1495.5,843.8 1496.0,843.8 1496.5,843.6 1497.0,843.5 1497.5,843.4 1498.0,843.3 1498.5,843.2 1499.0,843.1 1499.5,843.1 1500.0,843.1 1500.5,843.1 1501.0,842.8 1501.5,842.5 1502.0,842.1 1502.5,842.3 1503.0,842.7 1503.5,843.0 1504.0,843.3 1504.5,843.4 1505.0,843.6 1505.5,843.6 1506.0,843.4 1506.5,843.2 1507.0,842.9 1507.5,842.3 1508.0,841.8 1508.5,841.3 1509.0,841.6 1509.5,841.9 1510.0,842.2 1510.5,842.0 1511.0,841.6 1511.5,841.2 1512.0,841.1 1512.5,841.1 1513.0,841.1 1513.5,841.0 1514.0,840.9 1514.5,840.8 1515.0,840.6 1515.5,840.1 1516.0,839.6 1516.5,839.1 1517.0,839.4 1517.5,839.7 1518.0,840.0 1518.5,839.6 1519.0,838.9 1519.5,838.3 1520.0,837.9 1520.5,837.8 1521.0,837.6 1521.5,837.2 1522.0,836.8 1522.5,836.3 1523.0,835.8 1523.5,835.5 1524.0,835.1 1524.5,834.8 1525.0,834.2 1525.5,833.6 1526.0,833.0 1526.5,832.0 1527.0,830.8 1527.5,829.7 1528.0,829.1 1528.5,828.9 1529.0,828.7 1529.5,828.2 1530.0,827.3 1530.5,826.4 1531.0,825.8 1531.5,825.9 1532.0,826.0 1532.5,826.2 1533.0,826.4 1533.5,826.6 1533.5,826.6 1534.0,826.9 1534.5,827.0 1535.0,827.2 1535.5,827.5 1536.0,827.8 1536.5,828.2 1537.0,828.7 1537.5,829.0 1538.0,829.1 1538.5,829.2 1539.0,829.4 1539.5,830.1 1540.0,830.8 1540.5,831.5 1541.0,832.0 1541.5,832.5 1542.0,833.0 1542.5,833.8 1543.0,834.6 1543.5,835.4 1544.0,836.0 1544.5,836.6 1545.0,837.2 1545.5,837.5 1546.0,837.5 1546.5,837.5 1547.0,837.8 1547.5,839.1 1548.0,840.4 1548.5,841.6 1549.0,841.1 1549.5,840.6 1550.0,840.1 1550.5,840.1 1551.0,840.3 1551.5,840.5 1552.0,840.8 1552.5,841.2 1553.0,841.6 1553.5,841.9 1554.0,842.2 1554.5,842.4 1555.0,842.5 1555.5,842.6 1556.0,842.7 1556.5,842.8 1557.0,842.6 1557.5,842.5 1558.0,842.3 1558.5,842.7 1559.0,843.2 1559.5,843.8 1560.0,843.8 1560.5,843.5 1561.0,843.2 1561.5,843.2 1562.0,843.5 1562.5,843.8 1563.0,844.1 1563.5,844.0 1564.0,844.0 1564.5,843.9 1565.0,843.3 1565.5,842.6 1566.0,842.0 1566.5,841.8 1567.0,841.8 1567.5,841.8 1568.0,841.7 1568.5,841.6 1569.0,841.5 1569.5,841.5 1570.0,841.7 1570.5,841.8 1571.0,841.9 1571.5,841.7 1572.0,841.5 1572.5,841.2 1573.0,841.1 1573.5,840.9 1574.0,840.8 1574.5,840.4 1575.0,839.9 1575.5,839.4 1576.0,839.2 1576.5,839.2 1577.0,839.1 1577.5,839.1 1578.0,839.0 1578.5,838.8 1579.0,838.5 1579.5,837.5 1580.0,836.5 1580.5,835.4 1581.0,835.2 1581.5,834.9 1582.0,834.6 1582.5,834.2 1583.0,833.7 1583.5,833.2 1584.0,832.5 1584.5,831.7 1585.0,830.8 1585.5,830.0 1586.0,829.1 1586.5,828.2 1587.0,827.3 1587.5,826.8 1588.0,826.1 1588.5,825.4 1589.0,824.1 1589.5,822.8 1590.0,821.4 1590.5,819.9 1591.0,818.4 1591.5,816.8 1592.0,815.0 1592.5,813.0 1593.0,811.0 1593.5,809.3 1594.0,808.2 1594.5,807.1 1595.0,805.7 1595.5,803.6 1596.0,801.4 1596.5,799.3 1597.0,797.5 1597.5,795.8 1598.0,794.1 1598.5,792.9 1599.0,791.8 1599.5,790.9 1600.0,790.2 1600.5,789.6 1601.0,789.2 1601.5,789.3 1601.6,789.4 1602.0,789.9 1602.5,790.7 1603.0,791.6 1603.5,791.8 1604.0,792.1 1604.5,792.7 1605.0,793.7 1605.5,794.9 1606.0,796.2 1606.5,797.3 1607.0,798.3 1607.5,799.4 1608.0,801.2 1608.5,803.5 1609.0,805.8 1609.5,807.7 1610.0,809.0 1610.5,810.3 1611.0,811.7 1611.5,813.3 1612.0,814.8 1612.5,816.3 1613.0,818.2 1613.5,820.0 1614.0,821.7 1614.5,822.8 1615.0,823.7 1615.5,824.6 1616.0,825.8 1616.5,827.2 1617.0,828.6 1617.5,829.8 1618.0,830.8 1618.5,831.7 1619.0,832.4 1619.5,832.6 1620.0,832.7 1620.5,832.7 1621.0,833.7 1621.5,834.7 1622.0,835.7 1622.5,836.0 1623.0,836.3 1623.5,836.4 1624.0,837.0 1624.5,837.8 1625.0,838.5 1625.5,839.2 1626.0,839.8 1626.5,840.4 1627.0,840.8 1627.5,840.7 1628.0,840.5 1628.5,840.3 1629.0,841.3 1629.5,842.3 1630.0,843.2 1630.5,843.2 1631.0,843.0 1631.5,842.8 1632.0,842.7 1632.5,842.7 1633.0,842.7 1633.5,842.9 1634.0,843.3 1634.5,843.7 1635.0,844.1 1635.5,844.5 1636.0,844.9 1636.5,845.2 1637.0,844.9 1637.5,844.6 1638.0,844.2 1638.5,844.5 1639.0,844.9 1639.5,845.3 1640.0,845.4 1640.5,845.2 1641.0,845.0 1641.5,845.2 1642.0,845.8 1642.5,846.5 1643.0,847.0 1643.5,846.8 1644.0,846.7 1644.5,846.6 1645.0,846.5 1645.5,846.5 1646.0,846.4 1646.5,846.7 1647.0,847.1 1647.5,847.5 1648.0,847.4 1648.5,846.9 1649.0,846.5 1649.5,846.3 1650.0,846.6 1650.5,846.8 1651.0,847.1 1651.5,847.7 1652.0,848.2 1652.5,848.8 1653.0,848.4 1653.5,848.0 1654.0,847.6 1654.5,847.8 1655.0,848.2 1655.5,848.5 1656.0,848.5 1656.5,848.3 1657.0,848.1 1657.5,847.9 1658.0,847.7 1658.5,847.6 1659.0,847.5 1659.5,847.6 1660.0,847.7 1660.5,847.8 1661.0,847.9 1661.5,848.0 1662.0,848.1 1662.5,848.0 1663.0,847.9 1663.5,847.8 1664.0,847.7 1664.5,847.6 1665.0,847.6 1665.5,847.5 1666.0,847.5 1666.5,847.5 1667.0,847.5 1667.5,847.3 1668.0,847.2 1668.5,847.0 1669.0,847.3 1669.5,847.7 1670.0,848.0 1670.5,848.1 1671.0,848.2 1671.5,848.2 1672.0,848.2 1672.5,848.3 1673.0,848.3 1673.5,848.1 1674.0,847.5 1674.5,846.9 1675.0,846.5 1675.5,847.0 1676.0,847.5 1676.5,848.0 1677.0,847.8 1677.5,847.5 1678.0,847.2 1678.5,846.9 1679.0,846.4 1679.5,846.0 1680.0,845.9 1680.5,846.1 1681.0,846.3 1681.5,846.3 1682.0,846.3 1682.5,846.2 1683.0,846.0 1683.5,845.6 1684.0,845.2 1684.5,844.7 1685.0,844.1 1685.5,843.5 1686.0,842.6 1686.5,841.5 1687.0,840.1 1687.5,838.2 1688.0,835.7 1688.5,832.7 1689.0,828.9 1689.5,824.3 1690.0,818.8 1690.5,812.7 1691.0,805.9 1691.5,798.7 1692.0,791.7 1692.5,785.3 1693.0,780.9 1693.5,778.4 1694.0,777.8 1694.0,777.8 1694.5,778.8 1695.0,780.7 1695.5,782.9 1696.0,784.4 1696.5,785.0 1697.0,784.8 1697.5,783.9 1698.0,782.7 1698.5,781.7 1699.0,781.3 1699.5,782.1 1700.0,784.8 1700.5,789.1 1701.0,794.5 1701.5,800.7 1702.0,807.0 1702.5,813.5 1703.0,819.7 1703.5,825.3 1704.0,829.5 1704.5,832.6 1705.0,835.0 1705.5,837.2 1706.0,839.6 1706.5,841.5 1707.0,842.9 1707.5,843.5 1708.0,843.9 1708.5,844.2 1709.0,844.6 1709.5,844.9 1710.0,845.2 1710.5,845.7 1711.0,846.2 1711.5,846.7 1712.0,846.9 1712.5,846.8 1713.0,846.7 1713.5,846.8 1714.0,847.3 1714.5,847.7 1715.0,848.0 1715.5,847.7 1716.0,847.3 1716.5,847.0 1717.0,847.3 1717.5,847.7 1718.0,848.0 1718.5,847.9 1719.0,847.8 1719.5,847.7 1720.0,847.7 1720.5,847.9 1721.0,848.1 1721.5,848.2 1722.0,848.2 1722.5,848.2 1723.0,848.2 1723.5,848.1 1724.0,847.9 1724.5,847.8 1725.0,848.2 1725.5,848.6 1726.0,849.0 1726.5,848.8 1727.0,848.4 1727.5,848.0 1728.0,847.9 1728.5,848.0 1729.0,848.1 1729.5,848.3 1730.0,848.7 1730.5,849.1 1731.0,849.5 1731.5,849.5 1732.0,849.5 1732.5,849.6 1733.0,849.5 1733.5,849.4 1734.0,849.4 1734.5,849.3 1735.0,849.3 1735.5,849.2 1736.0,849.4 1736.5,849.9 1737.0,850.3 1737.5,850.2 1738.0,849.5 1738.5,848.7 1739.0,848.2 1739.5,848.3 1740.0,848.4 1740.5,848.5 1741.0,848.4 1741.5,848.3 1742.0,848.3 1742.5,848.6 1743.0,849.0 1743.5,849.4 1744.0,849.5 1744.5,849.4 1745.0,849.2 1745.5,849.2 1746.0,849.4 1746.5,849.6 1747.0,849.7 1747.5,849.7 1748.0,849.6 1748.5,849.6 1749.0,849.3 1749.5,849.1 1750.0,848.8 1750.5,848.6 1751.0,848.5 1751.5,848.4 1752.0,848.3 1752.5,848.2 1753.0,848.2 1753.5,848.4 1754.0,849.1 1754.5,849.8 1755.0,850.3 1755.5,850.0 1756.0,849.8 1756.5,849.5 1757.0,849.4 1757.5,849.3 1758.0,849.2 1758.5,849.0 1759.0,848.8 1759.5,848.6 1760.0,848.5 1760.5,848.5 1761.0,848.6 1761.5,848.6 1762.0,848.5 1762.5,848.5 1763.0,848.4 1763.5,848.4 1764.0,848.4 1764.5,848.4 1765.0,848.0 1765.5,847.5 1766.0,847.0 1766.5,847.3 1767.0,847.8 1767.5,848.3 1768.0,848.5 1768.5,848.4 1769.0,848.3 1769.5,848.3 1770.0,848.5 1770.5,848.6 1771.0,848.7 1771.5,848.7 1772.0,848.7 1772.5,848.6 1773.0,848.8 1773.5,848.9 1774.0,849.0 1774.5,848.9 1775.0,848.7 1775.5,848.5 1776.0,848.5 1776.5,848.7 1777.0,848.8 1777.5,848.6 1778.0,847.9 1778.5,847.1 1779.0,846.6 1779.5,846.9 1780.0,847.2 1780.5,847.5 1781.0,848.1 1781.5,848.7 1782.0,849.3 1782.5,848.9 1783.0,848.3 1783.5,847.6 1784.0,847.5 1784.5,847.6 1785.0,847.8 1785.5,848.0 1786.0,848.2 1786.5,848.4 1787.0,848.5 1787.5,848.2 1788.0,847.8 1788.5,847.4 1789.0,847.8 1789.5,848.1 1790.0,848.4 1790.5,848.1 1791.0,847.6 1791.5,847.2 1792.0,846.9 1792.5,846.8 1793.0,846.7 1793.5,846.7 1794.0,846.8 1794.5,846.9 1795.0,847.0 1795.5,846.9 1796.0,846.9 1796.5,846.8 1797.0,847.1 1797.5,847.5 1798.0,847.8 1798.5,847.8 1799.0,847.7 1799.5,847.6 1800.0,847.7 1800.5,847.8 1801.0,847.9 1801.5,847.8 1802.0,847.5 1802.5,847.2 1803.0,847.0 1803.5,847.8 1804.0,848.5 1804.5,849.2 1805.0,848.5 1805.5,847.8 1806.0,847.2 1806.5,846.9 1807.0,846.7 1807.5,846.5 1808.0,846.3 1808.5,846.0 1809.0,845.5 1809.5,844.8 1810.0,843.7 1810.5,842.4 1811.0,840.7 1811.5,838.8 1812.0,836.7 1812.5,834.2 1813.0,831.9 1813.5,829.7 1814.0,827.7 1814.5,826.3 1815.0,825.8 1815.1,825.8 1815.5,826.2 1816.0,827.3 1816.5,828.9 1817.0,830.6 1817.5,832.3 1818.0,833.7 1818.5,834.8 1819.0,835.5 1819.5,835.4 1820.0,835.1 1820.5,834.6 1821.0,834.6 1821.5,834.8 1822.0,835.4 1822.5,836.9 1823.0,838.7 1823.5,840.7 1824.0,842.0 1824.5,842.7 1825.0,843.4 1825.5,844.1 1826.0,845.1 1826.5,845.9 1827.0,846.6 1827.5,847.0 1828.0,847.4 1828.5,847.7 1829.0,848.1 1829.5,848.4 1830.0,848.6 1830.5,848.3 1831.0,847.8 1831.5,847.2 1832.0,847.2 1832.5,847.4 1833.0,847.7 1833.5,847.8 1834.0,847.9 1834.5,847.9 1835.0,848.0 1835.5,848.1 1836.0,848.1 1836.5,848.2 1837.0,847.7 1837.5,847.3 1838.0,846.9 1838.5,847.2 1839.0,847.7 1839.5,848.3 1840.0,848.1 1840.5,847.5 1841.0,846.9 1841.5,846.9 1842.0,847.6 1842.5,848.3 1843.0,848.9 1843.5,848.9 1844.0,849.0 1844.5,849.1 1845.0,849.1 1845.5,849.1 1846.0,849.2 1846.5,848.9 1847.0,848.5 1847.5,848.1 1848.0,848.2 1848.5,848.7 1849.0,849.2 1849.5,849.3 1850.0,848.9 1850.5,848.5 1851.0,848.2 1851.5,848.2 1852.0,848.1 1852.5,848.0 1853.0,848.1 1853.5,848.1 1854.0,848.2 1854.5,848.2 1855.0,848.3 1855.5,848.3 1856.0,848.5 1856.5,848.7 1857.0,848.9 1857.5,849.1 1858.0,849.3 1858.5,849.4 1859.0,849.4 1859.5,848.8 1860.0,848.2 1860.5,847.5 1861.0,847.8 1861.5,848.2 1862.0,848.5 1862.5,848.8 1863.0,849.1 1863.5,849.4 1864.0,849.4 1864.5,849.3 1865.0,849.1 1865.5,849.0 1866.0,849.1 1866.5,849.2 1867.0,849.1 1867.5,848.7 1868.0,848.2 1868.5,847.8 1869.0,848.3 1869.5,848.8 1870.0,849.3 1870.5,849.0 1871.0,848.4 1871.5,847.9 1872.0,847.9 1872.5,848.2 1873.0,848.6 1873.5,848.9 1874.0,849.2 1874.5,849.4 1875.0,849.6 1875.5,849.7 1876.0,849.8 1876.5,849.9 1877.0,849.6 1877.5,849.3 1878.0,849.0 1878.5,849.0 1879.0,849.1 1879.5,849.1 1880.0,849.0 1880.5,848.6 1881.0,848.3 1881.5,848.1 1882.0,848.1 1882.5,848.1 1883.0,848.2 1883.5,848.5 1884.0,848.9 1884.5,849.2 1885.0,849.0 1885.5,848.7 1886.0,848.4 1886.5,848.3 1887.0,848.3 1887.5,848.3 1888.0,848.1 1888.5,847.8 1889.0,847.5 1889.5,847.4 1890.0,847.8 1890.5,848.1 1891.0,848.4 1891.5,848.5 1892.0,848.6 1892.5,848.7 1893.0,848.3 1893.5,848.0 1894.0,847.7 1894.5,847.6 1895.0,847.7 1895.5,847.7 1896.0,848.0 1896.5,848.5 1897.0,848.9 1897.5,849.1 1898.0,848.7 1898.5,848.4 1899.0,848.1 1899.5,848.0 1900.0,847.9 1900.5,847.8 1901.0,847.6 1901.5,847.4 1902.0,847.2 1902.5,847.3 1903.0,847.4 1903.5,847.5 1904.0,847.5 1904.5,847.6 1905.0,847.7 1905.5,847.9 1906.0,848.2 1906.5,848.6 1907.0,848.7 1907.5,848.3 1908.0,847.9 1908.5,847.4 1909.0,847.9 1909.5,848.4 1910.0,849.0 1910.5,848.6 1911.0,848.0 1911.5,847.4 1912.0,847.2 1912.5,847.3 1913.0,847.4 1913.5,847.6 1914.0,847.9 1914.5,848.1 1915.0,848.3 1915.5,848.0 1916.0,847.8 1916.5,847.5 1917.0,847.4 1917.5,847.2 1918.0,847.1 1918.5,847.2 1919.0,847.3 1919.5,847.5 1920.0,847.6 1920.5,847.7 1921.0,847.8 1921.5,847.7 1922.0,847.2 1922.5,846.7 1923.0,846.4 1923.5,846.7 1924.0,847.0 1924.5,847.3 1925.0,847.3 1925.5,847.4 1926.0,847.4 1926.5,847.3 1927.0,847.2 1927.5,847.2 1928.0,847.3 1928.5,847.5 1929.0,847.7 1929.5,847.8 1930.0,847.5 1930.5,847.2 1931.0,846.9 1931.5,847.0 1932.0,847.0 1932.5,847.0 1933.0,847.1 1933.5,847.2 1934.0,847.2 1934.5,847.3 1935.0,847.5 1935.5,847.6 1936.0,847.5 1936.5,847.3 1937.0,847.1 1937.5,847.1 1938.0,847.5 1938.5,847.8 1939.0,848.0 1939.5,847.4 1940.0,846.9 1940.5,846.4 1941.0,846.8 1941.5,847.3 1942.0,847.8 1942.5,847.5 1943.0,847.0 1943.5,846.6 1944.0,846.5 1944.5,846.6 1945.0,846.8 1945.5,846.9 1946.0,847.0 1946.5,847.1 1947.0,847.3 1947.5,847.6 1948.0,848.0 1948.5,848.4 1949.0,848.1 1949.5,847.8 1950.0,847.6 1950.5,847.3 1951.0,847.0 1951.5,846.7 1952.0,846.8 1952.5,847.1 1953.0,847.5 1953.5,847.5 1954.0,847.2 1954.5,846.8 1955.0,846.5 1955.5,846.4 1956.0,846.2 1956.5,846.1 1957.0,846.3 1957.5,846.5 1958.0,846.8 1958.5,846.7 1959.0,846.6 1959.5,846.5 1960.0,846.5 1960.5,846.7 1961.0,846.8 1961.5,846.8 1962.0,846.4 1962.5,846.0 1963.0,845.7 1963.5,845.9 1964.0,846.0 1964.5,846.2 1965.0,846.2 1965.5,846.1 1966.0,846.1 1966.5,846.0 1967.0,845.8 1967.5,845.7 1968.0,845.5 1968.5,845.4 1969.0,845.2 1969.5,845.0 1970.0,844.8 1970.5,844.6 1971.0,844.4 1971.5,844.7 1972.0,844.9 1972.5,845.2 1973.0,844.9 1973.5,844.7 1974.0,844.4 1974.5,844.3 1975.0,844.3 1975.5,844.3 1976.0,844.1 1976.5,843.9 1977.0,843.6 1977.5,843.5 1978.0,843.5 1978.5,843.5 1979.0,843.5 1979.5,843.2 1980.0,842.9 1980.5,842.7 1981.0,842.9 1981.5,843.2 1981.6,843.2 1982.0,843.4 1982.5,843.6 1983.0,843.8 1983.5,843.9 1984.0,843.9 1984.5,843.8 1985.0,843.8 1985.5,843.8 1986.0,844.0 1986.5,844.3 1987.0,844.5 1987.5,844.4 1988.0,844.4 1988.5,844.4 1989.0,844.7 1989.5,845.0 1990.0,845.4 1990.5,845.2 1991.0,845.0 1991.5,844.8 1992.0,844.6 1992.5,844.3 1993.0,844.1 1993.5,844.2 1994.0,844.8 1994.5,845.4 1995.0,845.8 1995.5,845.8 1996.0,845.7 1996.5,845.7 1997.0,845.6 1997.5,845.5 1998.0,845.4 1998.5,845.8 1999.0,846.2 1999.5,846.7 2000.0,846.8 2000.5,846.8 2001.0,846.8 2001.5,846.8 2002.0,846.9 2002.5,847.0 2003.0,847.1 2003.5,847.0 2004.0,846.8 2004.5,846.7 2005.0,846.9 2005.5,847.0 2006.0,847.2 2006.5,847.2 2007.0,847.3 2007.5,847.3 2008.0,847.5 2008.5,847.8 2009.0,848.2 2009.5,848.2 2010.0,847.6 2010.5,847.1 2011.0,846.7 2011.5,846.8 2012.0,846.9 2012.5,847.0 2013.0,847.1 2013.5,847.1 2014.0,847.1 2014.5,846.7 2015.0,846.2 2015.5,845.6 2016.0,845.4 2016.5,845.3 2017.0,845.2 2017.5,845.4 2018.0,846.0 2018.5,846.6 2019.0,846.8 2019.5,845.6 2020.0,844.4 2020.5,843.0 2021.0,842.8 2021.5,842.5 2022.0,841.8 2022.5,840.0 2023.0,837.7 2023.5,834.7 2024.0,831.2 2024.5,827.0 2025.0,822.2 2025.5,816.6 2026.0,810.3 2026.5,804.0 2027.0,798.3 2027.5,794.1 2028.0,791.9 2028.3,791.7 2028.5,792.0 2029.0,794.5 2029.5,798.7 2030.0,803.7 2030.5,808.2 2031.0,811.9 2031.5,814.9 2032.0,817.2 2032.5,818.9 2033.0,819.4 2033.5,818.9 2034.0,817.6 2034.5,816.2 2035.0,815.3 2035.5,815.6 2036.0,817.1 2036.5,819.8 2037.0,822.3 2037.5,825.2 2038.0,828.2 2038.5,831.7 2039.0,835.1 2039.5,838.1 2040.0,840.4 2040.5,842.1 2041.0,843.4 2041.5,844.4 2042.0,845.0 2042.5,845.4 2043.0,845.6 2043.5,845.7 2044.0,845.7 2044.5,845.7 2045.0,846.6 2045.5,847.4 2046.0,848.3 2046.5,848.1 2047.0,847.6 2047.5,847.1 2048.0,847.0 2048.5,847.3 2049.0,847.6 2049.5,847.9 2050.0,848.3 2050.5,848.7 2051.0,849.0 2051.5,849.1 2052.0,849.2 2052.5,849.3 2053.0,848.9 2053.5,848.5 2054.0,848.1 2054.5,848.2 2055.0,848.4 2055.5,848.7 2056.0,848.7 2056.5,848.7 2057.0,848.7 2057.5,848.8 2058.0,849.2 2058.5,849.5 2059.0,849.8 2059.5,850.2 2060.0,850.5 2060.5,850.8 2061.0,849.8 2061.5,848.9 2062.0,847.9 2062.5,848.2 2063.0,848.8 2063.5,849.4 2064.0,849.2 2064.5,848.3 2065.0,847.5 2065.5,847.3 2066.0,847.9 2066.5,848.5 2067.0,849.0 2067.5,848.7 2068.0,848.5 2068.5,848.2 2069.0,848.9 2069.5,849.6 2070.0,850.3 2070.5,850.1"/><path id="sb" d="M174.0,1676.7 174.5,1676.7 175.0,1676.7 175.5,1676.7 176.0,1676.5 176.5,1676.0 177.0,1675.6 177.5,1675.7 178.0,1676.7 178.5,1677.6 179.0,1678.3 179.5,1678.2 180.0,1678.1 180.5,1677.9 181.0,1677.6 181.5,1677.3 182.0,1677.0 182.5,1677.1 183.0,1677.4 183.5,1677.6 184.0,1677.7 184.5,1677.6 185.0,1677.5 185.5,1677.3 186.0,1677.2 186.5,1677.0 187.0,1676.9 187.5,1677.3 188.0,1677.6 188.5,1677.9 189.0,1677.7 189.5,1677.4 190.0,1677.1 190.5,1677.1 191.0,1677.1 191.5,1677.1 192.0,1677.0 192.5,1676.9 193.0,1676.9 193.5,1676.9 194.0,1677.2 194.5,1677.5 195.0,1677.7 195.5,1677.6 196.0,1677.5 196.5,1677.3 197.0,1677.5 197.5,1677.6 198.0,1677.8 198.5,1677.6 199.0,1677.4 199.5,1677.1 200.0,1677.1 200.5,1677.3 201.0,1677.5 201.5,1677.5 202.0,1677.3 202.5,1677.1 203.0,1677.0 203.5,1677.4 204.0,1677.8 204.5,1678.1 205.0,1678.0 205.5,1677.9 206.0,1677.7 206.5,1677.7 207.0,1677.8 207.5,1677.8 208.0,1677.9 208.5,1677.9 209.0,1677.9 209.5,1677.8 210.0,1677.5 210.5,1677.2 211.0,1677.0 211.5,1677.4 212.0,1677.8 212.5,1678.2 213.0,1678.5 213.5,1678.8 214.0,1679.1 214.5,1678.5 215.0,1677.7 215.5,1676.9 216.0,1676.6 216.5,1676.6 217.0,1676.6 217.5,1676.6 218.0,1676.7 218.5,1676.7 219.0,1676.9 219.5,1677.4 220.0,1677.9 220.5,1678.4 221.0,1678.3 221.5,1678.1 222.0,1678.0 222.5,1678.1 223.0,1678.3 223.5,1678.6 224.0,1678.6 224.5,1678.5 225.0,1678.5 225.5,1678.4 226.0,1678.3 226.5,1678.2 227.0,1678.1 227.5,1678.1 228.0,1678.1 228.5,1678.2 229.0,1678.1 229.5,1678.0 230.0,1677.9 230.5,1678.1 231.0,1678.4 231.5,1678.6 232.0,1678.5 232.5,1678.1 233.0,1677.7 233.5,1677.5 234.0,1677.7 234.5,1677.9 235.0,1678.1 235.5,1678.3 236.0,1678.4 236.5,1678.6 237.0,1679.0 237.5,1679.4 238.0,1679.8 238.5,1679.4 239.0,1678.9 239.5,1678.4 240.0,1678.1 240.5,1678.1 241.0,1678.1 241.5,1678.1 242.0,1678.2 242.5,1678.4 243.0,1678.6 243.5,1679.0 244.0,1679.3 244.5,1679.7 245.0,1679.5 245.5,1679.2 246.0,1679.0 246.5,1679.3 247.0,1679.6 247.5,1680.0 248.0,1679.8 248.5,1679.1 249.0,1678.4 249.5,1678.3 250.0,1679.0 250.5,1679.7 251.0,1680.2 251.5,1680.3 252.0,1680.3 252.5,1680.3 253.0,1679.8 253.5,1679.3 254.0,1678.8 254.5,1679.0 255.0,1679.3 255.5,1679.7 256.0,1680.0 256.5,1680.3 257.0,1680.6 257.5,1680.6 258.0,1680.4 258.5,1680.2 259.0,1680.1 259.5,1680.3 260.0,1680.5 260.5,1680.8 261.0,1681.1 261.5,1681.4 262.0,1681.7 262.5,1681.5 263.0,1681.0 263.5,1680.6 264.0,1680.4 264.5,1680.3 265.0,1680.2 265.5,1680.1 266.0,1680.0 266.5,1679.9 267.0,1679.9 267.5,1680.3 268.0,1680.6 268.5,1680.9 269.0,1680.8 269.5,1680.6 270.0,1680.4 270.5,1680.4 271.0,1680.4 271.5,1680.4 272.0,1680.5 272.5,1680.5 273.0,1680.5 273.5,1680.6 274.0,1680.8 274.5,1680.9 275.0,1681.0 275.5,1680.6 276.0,1680.2 276.5,1679.9 277.0,1679.7 277.5,1679.6 278.0,1679.5 278.5,1679.3 279.0,1679.0 279.5,1678.8 280.0,1679.1 280.5,1679.9 281.0,1680.6 281.5,1680.9 282.0,1680.5 282.5,1680.1 283.0,1679.7 283.5,1679.8 284.0,1679.8 284.5,1679.8 285.0,1679.1 285.5,1678.3 286.0,1677.3 286.5,1676.2 287.0,1674.8 287.5,1672.9 288.0,1670.5 288.5,1667.5 289.0,1663.3 289.5,1657.8 290.0,1650.8 290.5,1642.8 291.0,1634.2 291.5,1625.9 292.0,1619.1 292.5,1615.1 292.8,1614.6 293.0,1614.9 293.5,1617.7 294.0,1622.8 294.5,1629.9 295.0,1638.1 295.5,1646.4 296.0,1653.6 296.5,1659.5 297.0,1664.3 297.5,1668.2 298.0,1671.3 298.5,1673.6 299.0,1675.2 299.5,1676.3 300.0,1677.0 300.5,1677.5 301.0,1677.9 301.5,1678.2 302.0,1678.4 302.5,1679.0 303.0,1679.5 303.5,1680.1 304.0,1680.2 304.5,1680.2 305.0,1680.1 305.5,1680.0 306.0,1679.9 306.5,1679.9 307.0,1679.9 307.5,1680.1 308.0,1680.3 308.5,1680.5 309.0,1680.3 309.5,1680.2 310.0,1680.1 310.5,1680.3 311.0,1680.5 311.5,1680.8 312.0,1681.1 312.5,1681.3 313.0,1681.5 313.5,1681.5 314.0,1681.1 314.5,1680.7 315.0,1680.4 315.5,1680.9 316.0,1681.4 316.5,1682.0 317.0,1681.5 317.5,1681.1 318.0,1680.6 318.5,1680.7 319.0,1680.8 319.5,1681.0 320.0,1681.0 320.5,1680.8 321.0,1680.6 321.5,1680.5 322.0,1680.6 322.5,1680.8 323.0,1680.9 323.5,1680.9 324.0,1681.0 324.5,1681.1 325.0,1680.9 325.5,1680.8 326.0,1680.7 326.5,1680.7 327.0,1680.6 327.5,1680.5 328.0,1680.5 328.5,1680.5 329.0,1680.5 329.5,1680.5 330.0,1680.5 330.5,1680.5 331.0,1680.4 331.5,1680.3 332.0,1680.1 332.5,1679.9 333.0,1680.2 333.5,1680.5 334.0,1680.8 334.5,1681.0 335.0,1681.2 335.5,1681.3 336.0,1681.5 336.5,1681.6 337.0,1681.7 337.5,1681.7 338.0,1681.7 338.5,1681.6 339.0,1681.7 339.5,1682.1 340.0,1682.5 340.5,1682.9 341.0,1682.4 341.5,1682.0 342.0,1681.5 342.5,1681.3 343.0,1681.1 343.5,1681.0 344.0,1681.2 344.5,1681.7 345.0,1682.2 345.5,1682.3 346.0,1681.7 346.5,1681.0 347.0,1680.6 347.5,1681.1 348.0,1681.5 348.5,1681.9 349.0,1681.5 349.5,1681.1 350.0,1680.7 350.5,1680.9 351.0,1681.1 351.5,1681.4 352.0,1681.2 352.5,1680.7 353.0,1680.2 353.5,1680.2 354.0,1680.8 354.5,1681.5 355.0,1681.9 355.5,1681.7 356.0,1681.5 356.5,1681.2 357.0,1681.1 357.5,1680.9 358.0,1680.7 358.5,1681.1 359.0,1681.7 359.5,1682.3 360.0,1682.4 360.5,1682.2 361.0,1682.0 361.5,1681.9 362.0,1681.7 362.5,1681.5 363.0,1681.4 363.5,1681.2 364.0,1681.1 364.5,1680.9 365.0,1681.0 365.5,1681.2 366.0,1681.3 366.5,1681.4 367.0,1681.3 367.5,1681.3 368.0,1681.4 368.5,1681.6 369.0,1681.8 369.5,1681.9 370.0,1681.9 370.5,1682.0 371.0,1681.9 371.5,1681.6 372.0,1681.3 372.5,1681.0 373.0,1681.0 373.5,1681.0 374.0,1681.0 374.5,1681.0 375.0,1681.0 375.5,1681.0 376.0,1680.9 376.5,1680.7 377.0,1680.6 377.5,1680.5 378.0,1680.7 378.5,1680.8 379.0,1681.0 379.5,1681.1 380.0,1681.2 380.5,1681.3 381.0,1681.5 381.5,1681.6 382.0,1681.8 382.5,1681.9 383.0,1682.0 383.5,1682.2 384.0,1681.9 384.5,1681.4 385.0,1681.0 385.5,1680.8 386.0,1681.1 386.5,1681.3 387.0,1681.5 387.5,1681.3 388.0,1681.0 388.5,1680.8 389.0,1681.3 389.5,1681.8 390.0,1682.3 390.5,1682.1 391.0,1681.6 391.5,1681.1 392.0,1681.0 392.5,1681.0 393.0,1681.1 393.5,1681.0 394.0,1680.7 394.5,1680.3 395.0,1680.0 395.5,1680.0 396.0,1679.9 396.5,1679.8 397.0,1680.0 397.5,1680.1 398.0,1680.2 398.5,1680.0 399.0,1679.7 399.5,1679.3 400.0,1679.1 400.5,1679.0 401.0,1678.9 401.5,1678.4 402.0,1677.5 402.5,1676.5 403.0,1675.4 403.5,1674.7 404.0,1673.5 404.5,1671.5 405.0,1667.6 405.5,1662.2 406.0,1654.9 406.5,1646.0 407.0,1634.8 407.5,1621.1 408.0,1604.4 408.5,1585.7 409.0,1566.5 409.5,1548.8 410.0,1534.7 410.5,1525.7 411.0,1523.1 411.0,1523.1 411.5,1526.2 412.0,1534.7 412.5,1547.4 413.0,1563.7 413.5,1581.3 414.0,1598.9 414.5,1615.0 415.0,1629.0 415.5,1640.9 416.0,1650.7 416.5,1658.5 417.0,1664.5 417.5,1669.0 418.0,1672.3 418.5,1674.7 419.0,1676.4 419.5,1677.5 420.0,1678.3 420.5,1678.9 421.0,1679.5 421.5,1680.1 422.0,1680.6 422.5,1681.0 423.0,1681.4 423.5,1681.7 424.0,1682.0 424.5,1682.1 425.0,1682.3 425.5,1682.4 426.0,1682.4 426.5,1682.4 427.0,1682.3 427.5,1682.1 428.0,1682.0 428.5,1681.8 429.0,1682.0 429.5,1682.2 430.0,1682.5 430.5,1682.7 431.0,1682.9 431.5,1683.1 432.0,1683.0 432.5,1682.6 433.0,1682.3 433.5,1682.3 434.0,1683.0 434.5,1683.7 435.0,1684.2 435.5,1684.1 436.0,1683.9 436.5,1683.7 437.0,1683.8 437.5,1683.8 438.0,1683.9 438.5,1684.1 439.0,1684.4 439.5,1684.8 440.0,1684.9 440.5,1684.8 441.0,1684.8 441.5,1684.8 442.0,1684.7 442.5,1684.7 443.0,1684.6 443.5,1684.4 444.0,1684.1 444.5,1683.9 445.0,1684.2 445.5,1684.6 446.0,1684.9 446.5,1685.0 447.0,1685.0 447.5,1685.1 448.0,1684.9 448.5,1684.7 449.0,1684.5 449.5,1684.5 450.0,1685.0 450.5,1685.4 451.0,1685.7 451.5,1685.5 452.0,1685.4 452.5,1685.3 453.0,1684.7 453.5,1684.1 454.0,1683.6 454.5,1683.8 455.0,1684.2 455.5,1684.7 456.0,1684.7 456.5,1684.3 457.0,1684.0 457.5,1684.0 458.0,1684.5 458.5,1685.0 459.0,1685.4 459.5,1685.3 460.0,1685.2 460.5,1685.1 461.0,1684.7 461.5,1684.2 462.0,1683.8 462.5,1683.7 463.0,1683.7 463.5,1683.8 464.0,1683.9 464.5,1684.1 465.0,1684.3 465.5,1684.4 466.0,1684.3 466.5,1684.2 467.0,1684.1 467.5,1684.5 468.0,1684.9 468.5,1685.2 469.0,1685.0 469.5,1684.8 470.0,1684.6 470.5,1684.4 471.0,1684.1 471.5,1683.9 472.0,1683.9 472.5,1684.1 473.0,1684.2 473.5,1684.1 474.0,1683.5 474.5,1682.9 475.0,1682.5 475.5,1683.0 476.0,1683.5 476.5,1683.9 477.0,1684.0 477.5,1684.1 478.0,1684.2 478.5,1684.0 479.0,1683.8 479.5,1683.5 480.0,1683.3 480.5,1683.2 481.0,1683.0 481.5,1683.1 482.0,1683.3 482.5,1683.5 483.0,1683.8 483.5,1684.1 484.0,1684.3 484.5,1684.6 485.0,1684.2 485.5,1683.8 486.0,1683.4 486.5,1683.0 487.0,1682.7 487.5,1682.4 488.0,1682.6 488.5,1683.1 489.0,1683.6 489.5,1683.6 490.0,1682.9 490.5,1682.1 491.0,1681.6 491.5,1682.1 492.0,1682.6 492.5,1683.0 493.0,1682.8 493.5,1682.5 494.0,1682.2 494.5,1682.4 495.0,1682.7 495.5,1683.0 496.0,1682.8 496.5,1682.4 497.0,1681.9 497.5,1681.9 498.0,1682.3 498.5,1682.7 499.0,1683.0 499.5,1682.7 500.0,1682.4 500.5,1682.2 501.0,1681.8 501.5,1681.4 502.0,1680.9 502.5,1680.8 503.0,1680.7 503.5,1680.7 504.0,1680.9 504.5,1681.2 505.0,1681.6 505.5,1681.9 506.0,1682.3 506.5,1682.6 507.0,1682.8 507.5,1682.5 508.0,1682.2 508.5,1681.9 509.0,1681.8 509.5,1681.8 510.0,1681.6 510.5,1681.5 511.0,1681.3 511.5,1681.1 512.0,1681.0 512.5,1681.0 513.0,1680.9 513.5,1680.7 514.0,1680.2 514.5,1679.7 515.0,1679.1 515.5,1678.5 516.0,1677.7 516.5,1676.8 517.0,1675.6 517.5,1674.2 518.0,1672.7 518.5,1671.6 519.0,1670.6 519.5,1669.4 520.0,1667.8 520.5,1666.0 521.0,1664.0 521.5,1661.8 522.0,1659.2 522.5,1656.6 523.0,1654.3 523.5,1653.4 524.0,1652.7 524.5,1652.3 525.0,1651.1 525.5,1650.4 525.7,1650.2 526.0,1650.0 526.5,1650.2 527.0,1650.8 527.5,1651.7 528.0,1652.9 528.5,1654.3 529.0,1655.9 529.5,1658.0 530.0,1660.7 530.5,1663.3 531.0,1665.8 531.5,1667.8 532.0,1669.7 532.5,1671.4 533.0,1672.8 533.5,1674.0 534.0,1675.2 534.5,1676.1 535.0,1676.9 535.5,1677.6 536.0,1678.8 536.5,1680.2 537.0,1681.4 537.5,1682.2 538.0,1682.4 538.5,1682.4 539.0,1682.5 539.5,1682.8 540.0,1683.1 540.5,1683.4 541.0,1684.4 541.5,1685.3 542.0,1686.2 542.5,1686.4 543.0,1686.4 543.5,1686.3 544.0,1686.3 544.5,1686.1 545.0,1686.0 545.5,1685.8 546.0,1685.6 546.5,1685.4 547.0,1685.3 547.5,1685.6 548.0,1685.9 548.5,1686.2 549.0,1685.7 549.5,1685.1 550.0,1684.5 550.5,1684.8 551.0,1685.4 551.5,1685.9 552.0,1686.0 552.5,1685.8 553.0,1685.6 553.5,1685.5 554.0,1685.3 554.5,1685.2 555.0,1685.1 555.5,1685.0 556.0,1685.0 556.5,1684.9 557.0,1685.3 557.5,1685.8 558.0,1686.2 558.5,1686.2 559.0,1686.1 559.5,1686.0 560.0,1685.9 560.5,1685.9 561.0,1685.9 561.5,1685.9 562.0,1686.0 562.5,1686.1 563.0,1686.1 563.5,1685.7 564.0,1685.3 564.5,1684.8 565.0,1684.7 565.5,1684.5 566.0,1684.3 566.5,1684.1 567.0,1683.9 567.5,1683.7 568.0,1683.7 568.5,1683.9 569.0,1684.0 569.5,1684.1 570.0,1684.1 570.5,1684.1 571.0,1684.0 571.5,1683.4 572.0,1682.8 572.5,1682.0 573.0,1681.3 573.5,1680.4 574.0,1679.0 574.5,1676.5 575.0,1673.2 575.5,1669.0 576.0,1664.1 576.5,1658.6 577.0,1652.2 577.5,1645.5 578.0,1639.2 578.5,1634.4 579.0,1632.0 579.2,1631.8 579.5,1632.2 580.0,1634.3 580.5,1637.7 581.0,1642.7 581.5,1648.2 582.0,1654.1 582.5,1659.4 583.0,1664.1 583.5,1668.3 584.0,1671.7 584.5,1674.3 585.0,1676.3 585.5,1677.8 586.0,1679.1 586.5,1680.0 587.0,1680.7 587.5,1681.3 588.0,1681.8 588.5,1682.2 589.0,1682.1 589.5,1682.0 590.0,1681.8 590.5,1682.2 591.0,1682.7 591.5,1683.2 592.0,1683.2 592.5,1682.8 593.0,1682.5 593.5,1682.4 594.0,1682.6 594.5,1682.8 595.0,1682.9 595.5,1682.7 596.0,1682.5 596.5,1682.3 597.0,1682.4 597.5,1682.4 598.0,1682.4 598.5,1682.2 599.0,1681.9 599.5,1681.5 600.0,1681.3 600.5,1681.0 601.0,1680.7 601.5,1680.5 602.0,1680.4 602.5,1680.2 603.0,1680.0 603.5,1679.7 604.0,1679.3 604.5,1678.9 605.0,1678.5 605.5,1678.0 606.0,1677.4 606.5,1676.7 607.0,1676.0 607.5,1675.1 608.0,1674.2 608.5,1673.3 609.0,1672.2 609.5,1670.6 610.0,1668.5 610.5,1666.1 611.0,1663.2 611.5,1659.6 612.0,1655.1 612.5,1649.4 613.0,1642.2 613.5,1632.4 614.0,1618.7 614.5,1599.4 615.0,1573.3 615.5,1539.1 616.0,1496.6 616.5,1445.9 617.0,1388.6 617.5,1329.6 618.0,1277.5 618.5,1243.6 618.9,1234.5 619.0,1234.7 619.5,1248.1 620.0,1275.1 620.5,1308.0 621.0,1345.0 621.5,1385.7 622.0,1429.7 622.5,1473.7 623.0,1514.5 623.5,1549.9 624.0,1578.6 624.5,1601.0 625.0,1618.2 625.5,1631.6 626.0,1642.2 626.5,1650.3 627.0,1656.4 627.5,1660.9 628.0,1664.4 628.5,1667.3 629.0,1669.3 629.5,1671.0 630.0,1672.3 630.5,1673.9 631.0,1675.4 631.5,1676.7 632.0,1677.8 632.5,1678.7 633.0,1679.3 633.5,1679.9 634.0,1680.6 634.5,1681.2 635.0,1681.7 635.5,1681.8 636.0,1681.9 636.5,1682.0 637.0,1682.6 637.5,1683.1 638.0,1683.6 638.5,1683.1 639.0,1682.4 639.5,1681.6 640.0,1681.4 640.5,1681.5 641.0,1681.6 641.5,1681.4 642.0,1680.8 642.5,1680.1 643.0,1679.4 643.5,1678.7 644.0,1677.8 644.5,1676.4 645.0,1674.1 645.5,1671.0 646.0,1666.8 646.5,1661.5 647.0,1654.8 647.5,1646.8 648.0,1638.3 648.5,1630.1 649.0,1623.6 649.5,1620.3 649.7,1620.1 650.0,1620.9 650.5,1624.2 651.0,1628.7 651.5,1633.6 652.0,1638.8 652.5,1644.4 653.0,1649.9 653.5,1655.3 654.0,1660.2 654.5,1664.4 655.0,1667.7 655.5,1670.3 656.0,1671.9 656.5,1672.9 657.0,1673.5 657.5,1674.1 658.0,1675.0 658.5,1675.7 659.0,1676.2 659.5,1676.2 660.0,1676.2 660.5,1676.1 661.0,1675.7 661.5,1675.2 662.0,1674.6 662.5,1674.5 663.0,1674.5 663.5,1674.4 664.0,1674.2 664.5,1673.8 665.0,1673.4 665.5,1673.3 666.0,1673.7 666.5,1674.3 667.0,1674.7 667.5,1674.5 668.0,1674.3 668.5,1674.1 669.0,1674.0 669.5,1674.0 670.0,1673.9 670.5,1673.9 671.0,1674.0 671.5,1674.2 672.0,1674.2 672.5,1674.2 673.0,1674.2 673.5,1674.1 674.0,1673.9 674.5,1673.6 675.0,1673.4 675.5,1673.2 676.0,1672.9 676.5,1672.7 677.0,1672.6 677.5,1672.5 678.0,1672.4 678.5,1672.2 679.0,1672.0 679.5,1671.7 680.0,1671.8 680.5,1672.1 681.0,1672.4 681.5,1672.7 682.0,1672.8 682.5,1673.0 683.0,1672.8 683.5,1671.7 684.0,1670.5 684.5,1669.3 685.0,1669.3 685.5,1669.2 686.0,1669.1 686.5,1668.6 687.0,1668.0 687.5,1667.3 688.0,1666.3 688.5,1665.0 689.0,1663.6 689.5,1662.2 690.0,1661.1 690.5,1659.7 691.0,1658.0 691.5,1655.6 692.0,1653.0 692.5,1650.1 693.0,1647.7 693.5,1645.0 694.0,1641.9 694.5,1637.8 695.0,1633.1 695.5,1628.1 696.0,1623.1 696.5,1618.0 697.0,1612.6 697.5,1606.9 698.0,1601.0 698.5,1595.0 699.0,1588.9 699.5,1582.6 700.0,1576.6 700.5,1570.9 701.0,1565.8 701.5,1561.4 702.0,1557.8 702.5,1555.7 703.0,1554.8 703.3,1554.8 703.5,1555.0 704.0,1556.3 704.5,1558.6 705.0,1561.9 705.5,1565.9 706.0,1570.3 706.5,1575.3 707.0,1580.7 707.5,1586.7 708.0,1592.9 708.5,1599.1 709.0,1605.0 709.5,1610.7 710.0,1616.1 710.5,1621.8 711.0,1627.3 711.5,1632.4 712.0,1637.1 712.5,1641.5 713.0,1645.5 713.5,1649.0 714.0,1652.1 714.5,1654.8 715.0,1657.4 715.5,1660.2 716.0,1662.7 716.5,1665.0 717.0,1666.2 717.5,1667.2 718.0,1668.1 718.5,1669.1 719.0,1669.9 719.5,1670.7 720.0,1671.4 720.5,1672.1 721.0,1672.6 721.5,1673.4 722.0,1674.6 722.5,1675.8 723.0,1676.7 723.5,1676.9 724.0,1677.0 724.5,1677.1 725.0,1677.7 725.5,1678.3 726.0,1678.9 726.5,1679.1 727.0,1679.3 727.5,1679.5 728.0,1679.8 728.5,1680.4 729.0,1680.9 729.5,1681.2 730.0,1681.4 730.5,1681.5 731.0,1681.6 731.5,1681.4 732.0,1681.2 732.5,1681.1 733.0,1681.4 733.5,1681.7 734.0,1682.0 734.5,1682.4 735.0,1682.7 735.5,1683.0 736.0,1682.9 736.5,1682.6 737.0,1682.2 737.5,1682.3 738.0,1683.0 738.5,1683.7 739.0,1684.3 739.5,1684.4 740.0,1684.5 740.5,1684.5 741.0,1684.6 741.5,1684.7 742.0,1684.7 742.5,1684.6 743.0,1684.4 743.5,1684.2 744.0,1684.2 744.5,1684.4 745.0,1684.6 745.5,1684.6 746.0,1684.3 746.5,1684.1 747.0,1683.9 747.5,1684.2 748.0,1684.5 748.5,1684.8 749.0,1684.8 749.5,1684.7 750.0,1684.6 750.5,1684.7 751.0,1684.9 751.5,1685.1 752.0,1685.1 752.5,1685.0 753.0,1684.9 753.5,1685.0 754.0,1685.2 754.5,1685.4 755.0,1685.6 755.5,1685.8 756.0,1686.1 756.5,1686.3 757.0,1685.8 757.5,1685.3 758.0,1684.8 758.5,1685.1 759.0,1685.6 759.5,1686.1 760.0,1686.0 760.5,1685.4 761.0,1684.8 761.5,1684.4 762.0,1684.4 762.5,1684.4 763.0,1684.5 763.5,1685.0 764.0,1685.4 764.5,1685.9 765.0,1686.0 765.5,1686.0 766.0,1686.1 766.5,1686.2 767.0,1686.3 767.5,1686.4 768.0,1686.2 768.5,1685.8 769.0,1685.4 769.5,1685.3 770.0,1685.6 770.5,1686.0 771.0,1686.3 771.5,1686.4 772.0,1686.4 772.5,1686.5 773.0,1686.8 773.5,1687.1 774.0,1687.3 774.5,1687.2 775.0,1686.9 775.5,1686.6 776.0,1686.6 776.5,1686.8 777.0,1686.9 777.5,1686.9 778.0,1686.6 778.5,1686.3 779.0,1686.1 779.5,1686.3 780.0,1686.4 780.5,1686.6 781.0,1686.6 781.5,1686.6 782.0,1686.5 782.5,1686.7 783.0,1687.0 783.5,1687.3 784.0,1687.2 784.5,1686.8 785.0,1686.5 785.5,1686.3 786.0,1686.3 786.5,1686.4 787.0,1686.5 787.5,1686.8 788.0,1687.1 788.5,1687.4 789.0,1687.7 789.5,1687.9 790.0,1688.2 790.5,1688.0 791.0,1687.7 791.5,1687.4 792.0,1687.3 792.5,1687.2 793.0,1687.2 793.5,1687.1 794.0,1687.0 794.5,1686.8 795.0,1686.8 795.5,1687.1 796.0,1687.4 796.5,1687.7 797.0,1687.6 797.5,1687.4 798.0,1687.3 798.5,1687.5 799.0,1687.7 799.5,1688.0 800.0,1687.9 800.5,1687.6 801.0,1687.2 801.5,1686.9 802.0,1686.6 802.5,1686.3 803.0,1686.0 803.5,1686.1 804.0,1686.1 804.5,1686.2 805.0,1686.0 805.5,1685.9 806.0,1685.7 806.5,1685.5 807.0,1685.4 807.5,1685.2 808.0,1685.4 808.5,1685.7 809.0,1686.1 809.5,1686.0 810.0,1685.5 810.5,1684.9 811.0,1683.9 811.5,1682.5 812.0,1680.7 812.5,1678.6 813.0,1677.2 813.5,1675.5 814.0,1673.5 814.5,1670.5 815.0,1667.6 815.5,1665.0 816.0,1663.4 816.5,1662.7 816.5,1662.6 817.0,1662.8 817.5,1663.6 818.0,1665.2 818.5,1666.9 819.0,1668.7 819.5,1670.4 820.0,1672.3 820.5,1674.4 821.0,1676.3 821.5,1678.0 822.0,1679.6 822.5,1680.7 823.0,1681.6 823.5,1682.3 824.0,1683.2 824.5,1684.2 825.0,1685.0 825.5,1685.6 826.0,1685.9 826.5,1686.1 827.0,1686.2 827.5,1685.7 828.0,1685.2 828.5,1684.6 829.0,1685.4 829.5,1686.1 830.0,1686.9 830.5,1687.1 831.0,1687.1 831.5,1687.2 832.0,1687.1 832.5,1686.9 833.0,1686.7 833.5,1686.6 834.0,1686.7 834.5,1686.9 835.0,1687.0 835.5,1686.9 836.0,1686.9 836.5,1686.8 837.0,1686.7 837.5,1686.6 838.0,1686.5 838.5,1686.5 839.0,1686.6 839.5,1686.8 840.0,1687.0 840.5,1687.4 841.0,1687.8 841.5,1687.8 842.0,1687.2 842.5,1686.6 843.0,1686.2 843.5,1686.5 844.0,1686.9 844.5,1687.3 845.0,1687.3 845.5,1687.2 846.0,1687.2 846.5,1687.1 847.0,1686.9 847.5,1686.7 848.0,1686.7 848.5,1686.7 849.0,1686.8 849.5,1686.7 850.0,1686.5 850.5,1686.3 851.0,1686.2 851.5,1686.3 852.0,1686.4 852.5,1686.5 853.0,1686.7 853.5,1686.9 854.0,1687.1 854.5,1687.2 855.0,1687.2 855.5,1687.3 856.0,1687.1 856.5,1686.9 857.0,1686.6 857.5,1686.8 858.0,1687.6 858.5,1688.5 859.0,1689.0 859.5,1688.2 860.0,1687.4 860.5,1686.6 861.0,1686.8 861.5,1686.9 862.0,1687.1 862.5,1687.0 863.0,1686.9 863.5,1686.8 864.0,1686.6 864.5,1686.5 865.0,1686.4 865.5,1686.4 866.0,1686.7 866.5,1686.9 867.0,1687.0 867.5,1686.6 868.0,1686.1 868.5,1685.6 869.0,1685.9 869.5,1686.2 870.0,1686.5 870.5,1686.4 871.0,1686.3 871.5,1686.1 872.0,1685.7 872.5,1685.1 873.0,1684.6 873.5,1684.3 874.0,1684.7 874.5,1685.0 875.0,1685.2 875.5,1684.8 876.0,1684.3 876.5,1683.8 877.0,1684.4 877.5,1685.1 878.0,1685.7 878.5,1685.2 879.0,1684.4 879.5,1683.6 880.0,1683.1 880.5,1682.9 881.0,1682.7 881.5,1682.4 882.0,1682.1 882.5,1681.7 883.0,1681.5 883.5,1681.5 884.0,1681.5 884.5,1681.5 885.0,1681.6 885.5,1681.6 886.0,1681.6 886.5,1681.5 887.0,1681.2 887.5,1681.0 888.0,1680.8 888.5,1680.6 889.0,1680.4 889.5,1680.3 890.0,1680.3 890.5,1680.4 891.0,1680.5 891.5,1680.5 892.0,1680.6 892.5,1680.7 893.0,1681.0 893.5,1681.3 894.0,1681.6 894.5,1681.1 895.0,1680.3 895.5,1679.6 896.0,1679.4 896.5,1679.5 897.0,1679.7 897.5,1679.7 898.0,1679.5 898.5,1679.3 899.0,1679.1 899.5,1678.8 900.0,1678.5 900.5,1678.2 901.0,1678.1 901.5,1677.9 902.0,1677.8 902.5,1677.6 903.0,1677.4 903.5,1677.2 904.0,1677.2 904.5,1677.2 905.0,1677.3 905.5,1677.0 906.0,1676.5 906.5,1675.9 907.0,1675.3 907.5,1674.8 908.0,1674.3 908.5,1673.7 909.0,1673.5 909.5,1673.3 910.0,1673.1 910.5,1672.7 911.0,1672.2 911.5,1671.8 912.0,1671.4 912.5,1671.0 913.0,1670.6 913.5,1670.5 914.0,1670.5 914.5,1670.6 914.7,1670.6 915.0,1670.6 915.5,1670.4 916.0,1670.3 916.5,1670.2 917.0,1670.7 917.5,1671.2 918.0,1671.8 918.5,1672.1 919.0,1672.3 919.5,1672.6 920.0,1672.7 920.5,1672.8 921.0,1672.8 921.5,1672.8 922.0,1672.9 922.5,1672.8 923.0,1673.0 923.5,1673.7 924.0,1674.3 924.5,1675.0 925.0,1674.7 925.5,1674.3 926.0,1673.9 926.5,1674.2 927.0,1674.7 927.5,1675.2 928.0,1674.7 928.5,1673.6 929.0,1672.5 929.5,1671.7 930.0,1671.6 930.5,1671.4 931.0,1671.0 931.5,1670.0 932.0,1668.9 932.5,1667.8 933.0,1666.9 933.5,1665.9 934.0,1664.8 934.5,1663.4 935.0,1661.7 935.5,1659.6 936.0,1656.6 936.5,1652.6 937.0,1647.4 937.5,1640.8 938.0,1632.1 938.5,1620.1 939.0,1603.8 939.5,1582.0 940.0,1553.7 940.5,1517.6 941.0,1473.2 941.5,1420.2 942.0,1359.1 942.5,1291.6 943.0,1220.0 943.5,1147.8 944.0,1079.7 944.5,1021.3 945.0,978.0 945.5,953.7 945.9,948.5 946.0,949.1 946.5,962.5 947.0,989.8 947.5,1027.1 948.0,1071.4 948.5,1120.9 949.0,1174.0 949.5,1229.6 950.0,1285.6 950.5,1340.1 951.0,1391.2 951.5,1437.5 952.0,1478.3 952.5,1513.4 953.0,1542.6 953.5,1566.3 954.0,1585.1 954.5,1599.5 955.0,1610.5 955.5,1618.7 956.0,1624.8 956.5,1629.2 957.0,1632.1 957.5,1634.3 958.0,1636.2 958.5,1638.0 959.0,1639.7 959.5,1641.6 960.0,1643.9 960.5,1646.5 961.0,1649.2 961.5,1651.7 962.0,1653.6 962.5,1655.5 963.0,1657.4 963.5,1659.4 964.0,1661.3 964.5,1663.1 965.0,1664.8 965.5,1666.5 966.0,1668.0 966.5,1669.4 967.0,1670.8 967.5,1672.0 968.0,1672.7 968.5,1673.0 969.0,1673.2 969.5,1673.8 970.0,1674.8 970.5,1675.8 971.0,1676.7 971.5,1677.6 972.0,1678.4 972.5,1679.2 973.0,1679.5 973.5,1679.9 974.0,1680.2 974.5,1680.5 975.0,1680.7 975.5,1681.0 976.0,1681.3 976.5,1681.7 977.0,1682.0 977.5,1682.5 978.0,1683.2 978.5,1683.9 979.0,1684.4 979.5,1684.2 980.0,1684.1 980.5,1683.9 981.0,1684.3 981.5,1684.8 982.0,1685.2 982.5,1685.5 983.0,1685.6 983.5,1685.8 984.0,1685.8 984.5,1685.7 985.0,1685.6 985.5,1685.6 986.0,1686.0 986.5,1686.3 987.0,1686.6 987.5,1686.5 988.0,1686.4 988.5,1686.3 989.0,1686.4 989.5,1686.5 990.0,1686.6 990.5,1686.5 991.0,1686.5 991.5,1686.5 992.0,1686.7 992.5,1687.2 993.0,1687.7 993.5,1687.9 994.0,1687.7 994.5,1687.5 995.0,1687.3 995.5,1687.3 996.0,1687.3 996.5,1687.3 997.0,1687.2 997.5,1687.1 998.0,1687.1 998.5,1687.6 999.0,1688.3 999.5,1688.9 1000.0,1689.1 1000.5,1688.9 1001.0,1688.7 1001.5,1688.5 1002.0,1688.3 1002.5,1688.2 1003.0,1688.0 1003.5,1687.9 1004.0,1687.8 1004.5,1687.7 1005.0,1687.6 1005.5,1687.4 1006.0,1687.3 1006.5,1687.6 1007.0,1688.0 1007.5,1688.4 1008.0,1688.6 1008.5,1688.6 1009.0,1688.6 1009.5,1688.5 1010.0,1688.1 1010.5,1687.8 1011.0,1687.6 1011.5,1688.2 1012.0,1688.8 1012.5,1689.4 1013.0,1689.3 1013.5,1689.2 1014.0,1689.1 1014.5,1688.8 1015.0,1688.5 1015.5,1688.1 1016.0,1688.0 1016.5,1688.1 1017.0,1688.2 1017.5,1688.3 1018.0,1688.3 1018.5,1688.4 1019.0,1688.4 1019.5,1688.6 1020.0,1688.7 1020.5,1688.9 1021.0,1688.8 1021.5,1688.7 1022.0,1688.7 1022.5,1688.4 1023.0,1688.1 1023.5,1687.8 1024.0,1688.1 1024.5,1688.8 1025.0,1689.4 1025.5,1689.8 1026.0,1689.5 1026.5,1689.3 1027.0,1689.1 1027.5,1689.3 1028.0,1689.5 1028.5,1689.8 1029.0,1689.8 1029.5,1689.8 1030.0,1689.8 1030.5,1689.5 1031.0,1689.2 1031.5,1688.9 1032.0,1688.8 1032.5,1689.0 1033.0,1689.1 1033.5,1689.2 1034.0,1689.3 1034.5,1689.4 1035.0,1689.5 1035.5,1689.5 1036.0,1689.5 1036.5,1689.5 1037.0,1689.3 1037.5,1689.1 1038.0,1688.9 1038.5,1688.8 1039.0,1688.7 1039.5,1688.6 1040.0,1688.6 1040.5,1688.8 1041.0,1688.9 1041.5,1688.9 1042.0,1688.8 1042.5,1688.6 1043.0,1688.4 1043.5,1688.5 1044.0,1688.5 1044.5,1688.6 1045.0,1688.3 1045.5,1688.0 1046.0,1687.6 1046.5,1687.9 1047.0,1688.4 1047.5,1688.9 1048.0,1688.9 1048.5,1688.7 1049.0,1688.4 1049.5,1688.3 1050.0,1688.4 1050.5,1688.5 1051.0,1688.6 1051.5,1688.8 1052.0,1688.9 1052.5,1689.0 1053.0,1689.1 1053.5,1689.2 1054.0,1689.2 1054.5,1689.5 1055.0,1689.9 1055.5,1690.2 1056.0,1690.2 1056.5,1689.8 1057.0,1689.4 1057.5,1689.1 1058.0,1688.7 1058.5,1688.4 1059.0,1688.2 1059.5,1688.5 1060.0,1688.8 1060.5,1689.2 1061.0,1689.0 1061.5,1688.8 1062.0,1688.7 1062.5,1688.8 1063.0,1689.0 1063.5,1689.3 1064.0,1689.2 1064.5,1689.0 1065.0,1688.7 1065.5,1688.6 1066.0,1688.5 1066.5,1688.5 1067.0,1688.5 1067.5,1688.6 1068.0,1688.6 1068.5,1688.6 1069.0,1688.6 1069.5,1688.5 1070.0,1688.5 1070.5,1688.2 1071.0,1687.9 1071.5,1687.6 1072.0,1687.6 1072.5,1687.9 1073.0,1688.1 1073.5,1688.2 1074.0,1688.3 1074.5,1688.3 1075.0,1688.4 1075.5,1688.6 1076.0,1688.7 1076.5,1688.8 1077.0,1688.2 1077.5,1687.5 1078.0,1686.8 1078.5,1686.1 1079.0,1685.3 1079.5,1684.3 1080.0,1683.2 1080.5,1682.0 1081.0,1680.5 1081.5,1678.7 1082.0,1676.6 1082.5,1674.5 1083.0,1672.6 1083.5,1671.3 1084.0,1670.6 1084.5,1670.5 1084.5,1670.5 1085.0,1670.6 1085.5,1671.1 1086.0,1671.8 1086.5,1672.6 1087.0,1673.4 1087.5,1674.3 1088.0,1675.6 1088.5,1677.2 1089.0,1678.9 1089.5,1680.6 1090.0,1682.1 1090.5,1683.5 1091.0,1684.7 1091.5,1685.3 1092.0,1685.7 1092.5,1686.0 1093.0,1686.8 1093.5,1687.4 1094.0,1687.9 1094.5,1687.9 1095.0,1687.7 1095.5,1687.5 1096.0,1687.6 1096.5,1688.0 1097.0,1688.4 1097.5,1688.6 1098.0,1688.6 1098.5,1688.5 1099.0,1688.5 1099.5,1688.7 1100.0,1688.9 1100.5,1689.1 1101.0,1689.1 1101.5,1689.1 1102.0,1689.0 1102.5,1689.1 1103.0,1689.2 1103.5,1689.3 1104.0,1689.4 1104.5,1689.4 1105.0,1689.4 1105.5,1689.5 1106.0,1689.7 1106.5,1689.8 1107.0,1689.9 1107.5,1689.9 1108.0,1689.8 1108.5,1689.8 1109.0,1689.6 1109.5,1689.5 1110.0,1689.3 1110.5,1689.2 1111.0,1689.0 1111.5,1688.9 1112.0,1689.1 1112.5,1689.7 1113.0,1690.3 1113.5,1690.6 1114.0,1690.7 1114.5,1690.7 1115.0,1690.7 1115.5,1690.3 1116.0,1689.9 1116.5,1689.5 1117.0,1689.7 1117.5,1690.0 1118.0,1690.2 1118.5,1689.9 1119.0,1689.4 1119.5,1689.0 1120.0,1688.8 1120.5,1688.8 1121.0,1688.8 1121.5,1688.9 1122.0,1689.2 1122.5,1689.5 1123.0,1689.8 1123.5,1690.2 1124.0,1690.6 1124.5,1691.0 1125.0,1690.4 1125.5,1689.9 1126.0,1689.3 1126.5,1689.3 1127.0,1689.3 1127.5,1689.4 1128.0,1689.7 1128.5,1690.3 1129.0,1690.8 1129.5,1690.8 1130.0,1690.1 1130.5,1689.3 1131.0,1688.8 1131.5,1689.3 1132.0,1689.9 1132.5,1690.5 1133.0,1690.4 1133.5,1690.4 1134.0,1690.4 1134.5,1690.2 1135.0,1690.1 1135.5,1689.9 1136.0,1689.9 1136.5,1690.0 1137.0,1690.1 1137.5,1690.4 1138.0,1690.9 1138.5,1691.4 1139.0,1691.7 1139.5,1690.9 1140.0,1690.1 1140.5,1689.2 1141.0,1689.4 1141.5,1689.6 1142.0,1689.8 1142.5,1689.8 1143.0,1689.9 1143.5,1689.9 1144.0,1689.8 1144.5,1689.7 1145.0,1689.6 1145.5,1689.5 1146.0,1689.4 1146.5,1689.2 1147.0,1689.2 1147.5,1689.9 1148.0,1690.5 1148.5,1691.2 1149.0,1690.9 1149.5,1690.6 1150.0,1690.3 1150.5,1689.9 1151.0,1689.4 1151.5,1689.0 1152.0,1689.0 1152.5,1689.2 1153.0,1689.4 1153.5,1689.7 1154.0,1689.9 1154.5,1690.2 1155.0,1690.3 1155.5,1690.3 1156.0,1690.3 1156.5,1690.3 1157.0,1689.9 1157.5,1689.5 1158.0,1689.1 1158.5,1689.3 1159.0,1689.6 1159.5,1689.9 1160.0,1690.1 1160.5,1690.1 1161.0,1690.2 1161.5,1690.3 1162.0,1690.3 1162.5,1690.3 1163.0,1690.3 1163.5,1690.3 1164.0,1690.3 1164.5,1690.3 1165.0,1689.9 1165.5,1689.4 1166.0,1688.9 1166.5,1689.4 1167.0,1690.2 1167.5,1691.0 1168.0,1691.1 1168.5,1690.8 1169.0,1690.4 1169.5,1690.4 1170.0,1690.7 1170.5,1691.1 1171.0,1691.4 1171.5,1691.6 1172.0,1691.8 1172.5,1692.1 1173.0,1691.4 1173.5,1690.7 1174.0,1690.1 1174.5,1689.8 1175.0,1689.5 1175.5,1689.3 1176.0,1689.5 1176.5,1689.9 1177.0,1690.4 1177.5,1690.6 1178.0,1690.3 1178.5,1690.1 1179.0,1689.9 1179.5,1689.9 1180.0,1689.8 1180.5,1689.7 1181.0,1689.6 1181.5,1689.5 1182.0,1689.3 1182.5,1689.8 1183.0,1690.4 1183.5,1691.0 1184.0,1690.9 1184.5,1690.5 1185.0,1690.0 1185.5,1689.6 1186.0,1689.4 1186.5,1689.2 1187.0,1689.1 1187.5,1689.3 1188.0,1689.5 1188.5,1689.7 1189.0,1689.5 1189.5,1689.4 1190.0,1689.2 1190.5,1689.4 1191.0,1689.7 1191.5,1690.0 1192.0,1690.0 1192.5,1689.9 1193.0,1689.7 1193.5,1689.6 1194.0,1689.5 1194.5,1689.3 1195.0,1689.3 1195.5,1689.6 1196.0,1690.0 1196.5,1690.3 1197.0,1690.0 1197.5,1689.8 1198.0,1689.5 1198.5,1689.7 1199.0,1689.9 1199.5,1690.2 1200.0,1690.4 1200.5,1690.5 1201.0,1690.6 1201.5,1690.5 1202.0,1690.2 1202.5,1689.8 1203.0,1689.5 1203.5,1689.4 1204.0,1689.3 1204.5,1689.3 1205.0,1689.4 1205.5,1689.6 1206.0,1689.8 1206.5,1689.9 1207.0,1690.0 1207.5,1690.2 1208.0,1690.1 1208.5,1689.9 1209.0,1689.7 1209.5,1689.5 1210.0,1689.5 1210.5,1689.5 1211.0,1689.5 1211.5,1689.5 1212.0,1689.4 1212.5,1689.3 1213.0,1689.4 1213.5,1689.4 1214.0,1689.4 1214.5,1689.4 1215.0,1689.5 1215.5,1689.5 1216.0,1689.3 1216.5,1688.9 1217.0,1688.6 1217.5,1688.4 1218.0,1688.3 1218.5,1688.3 1219.0,1688.3 1219.5,1688.3 1220.0,1688.3 1220.5,1688.3 1221.0,1688.0 1221.5,1687.7 1222.0,1687.4 1222.5,1687.3 1223.0,1687.2 1223.5,1687.1 1224.0,1686.9 1224.5,1686.5 1225.0,1686.1 1225.5,1685.4 1226.0,1684.5 1226.5,1683.3 1227.0,1681.8 1227.5,1680.0 1228.0,1677.8 1228.5,1675.2 1229.0,1672.3 1229.5,1669.0 1230.0,1665.3 1230.5,1661.9 1231.0,1658.5 1231.5,1655.1 1232.0,1651.8 1232.5,1648.8 1233.0,1646.8 1233.5,1645.9 1233.6,1645.8 1234.0,1645.7 1234.5,1646.3 1235.0,1647.5 1235.5,1649.3 1236.0,1651.2 1236.5,1653.2 1237.0,1655.9 1237.5,1658.8 1238.0,1661.9 1238.5,1664.8 1239.0,1667.6 1239.5,1670.4 1240.0,1672.9 1240.5,1675.2 1241.0,1677.1 1241.5,1679.0 1242.0,1681.0 1242.5,1682.7 1243.0,1683.9 1243.5,1684.4 1244.0,1684.6 1244.5,1684.7 1245.0,1685.5 1245.5,1686.2 1246.0,1686.9 1246.5,1687.4 1247.0,1687.8 1247.5,1688.1 1248.0,1688.0 1248.5,1687.6 1249.0,1687.1 1249.5,1687.0 1250.0,1687.3 1250.5,1687.6 1251.0,1687.9 1251.5,1688.3 1252.0,1688.7 1252.5,1689.1 1253.0,1689.3 1253.5,1689.4 1254.0,1689.5 1254.5,1689.3 1255.0,1688.9 1255.5,1688.6 1256.0,1688.6 1256.5,1688.8 1257.0,1689.0 1257.5,1689.2 1258.0,1689.6 1258.5,1689.9 1259.0,1690.0 1259.5,1689.6 1260.0,1689.2 1260.5,1688.7 1261.0,1688.5 1261.5,1688.3 1262.0,1688.1 1262.5,1688.3 1263.0,1688.6 1263.5,1688.9 1264.0,1689.0 1264.5,1688.9 1265.0,1688.8 1265.5,1688.9 1266.0,1689.3 1266.5,1689.7 1267.0,1689.9 1267.5,1689.6 1268.0,1689.4 1268.5,1689.1 1269.0,1688.9 1269.5,1688.7 1270.0,1688.5 1270.5,1689.0 1271.0,1689.7 1271.5,1690.4 1272.0,1690.2 1272.5,1689.6 1273.0,1688.9 1273.5,1688.6 1274.0,1688.8 1274.5,1689.0 1275.0,1689.2 1275.5,1689.2 1276.0,1689.2 1276.5,1689.2 1277.0,1689.2 1277.5,1689.2 1278.0,1689.2 1278.5,1689.1 1279.0,1688.9 1279.5,1688.7 1280.0,1688.7 1280.5,1688.7 1281.0,1688.8 1281.5,1688.7 1282.0,1688.6 1282.5,1688.4 1283.0,1688.1 1283.5,1687.8 1284.0,1687.4 1284.5,1687.1 1285.0,1687.3 1285.5,1687.4 1286.0,1687.6 1286.5,1687.6 1287.0,1687.5 1287.5,1687.4 1288.0,1687.4 1288.5,1687.3 1289.0,1687.2 1289.5,1687.1 1290.0,1687.1 1290.5,1687.0 1291.0,1686.9 1291.5,1686.6 1292.0,1686.4 1292.5,1686.1 1293.0,1686.4 1293.5,1686.7 1294.0,1687.0 1294.5,1687.0 1295.0,1687.0 1295.5,1686.9 1296.0,1686.3 1296.5,1685.4 1297.0,1684.5 1297.5,1684.2 1298.0,1684.6 1298.5,1685.1 1299.0,1685.4 1299.5,1685.2 1299.6,1685.2 1300.0,1685.1 1300.5,1684.9 1301.0,1684.5 1301.5,1684.2 1302.0,1683.8 1302.5,1684.3 1303.0,1685.0 1303.5,1685.8 1304.0,1686.0 1304.5,1685.9 1305.0,1685.7 1305.5,1685.7 1306.0,1685.9 1306.5,1686.0 1307.0,1686.2 1307.5,1686.2 1308.0,1686.3 1308.5,1686.3 1309.0,1686.8 1309.5,1687.2 1310.0,1687.7 1310.5,1687.9 1311.0,1688.0 1311.5,1688.1 1312.0,1688.1 1312.5,1688.0 1313.0,1687.8 1313.5,1687.8 1314.0,1687.9 1314.5,1688.1 1315.0,1688.2 1315.5,1688.0 1316.0,1687.9 1316.5,1687.8 1317.0,1687.8 1317.5,1687.9 1318.0,1688.0 1318.5,1687.9 1319.0,1687.7 1319.5,1687.5 1320.0,1687.6 1320.5,1687.8 1321.0,1687.9 1321.5,1688.0 1322.0,1687.8 1322.5,1687.7 1323.0,1687.6 1323.5,1687.8 1324.0,1688.0 1324.5,1688.2 1325.0,1688.3 1325.5,1688.4 1326.0,1688.4 1326.5,1688.3 1327.0,1688.2 1327.5,1688.0 1328.0,1688.0 1328.5,1688.1 1329.0,1688.2 1329.5,1688.4 1330.0,1688.6 1330.5,1688.8 1331.0,1688.7 1331.5,1687.4 1332.0,1686.2 1332.5,1684.9 1333.0,1685.0 1333.5,1685.1 1334.0,1685.0 1334.5,1684.3 1335.0,1683.1 1335.5,1681.6 1336.0,1679.6 1336.5,1676.9 1337.0,1673.4 1337.5,1668.8 1338.0,1663.1 1338.5,1656.6 1339.0,1649.9 1339.5,1644.0 1340.0,1639.6 1340.5,1637.6 1340.7,1637.4 1341.0,1638.0 1341.5,1640.8 1342.0,1644.7 1342.5,1648.7 1343.0,1651.9 1343.5,1654.0 1344.0,1655.3 1344.5,1656.1 1345.0,1656.9 1345.5,1658.5 1346.0,1660.9 1346.5,1664.2 1347.0,1667.7 1347.5,1671.0 1348.0,1673.9 1348.5,1676.4 1349.0,1679.5 1349.5,1682.0 1350.0,1684.1 1350.5,1685.1 1351.0,1685.5 1351.5,1685.7 1352.0,1685.9 1352.5,1686.1 1353.0,1686.2 1353.5,1686.4 1354.0,1686.9 1354.5,1687.3 1355.0,1687.6 1355.5,1687.5 1356.0,1687.3 1356.5,1687.2 1357.0,1686.9 1357.5,1686.7 1358.0,1686.4 1358.5,1686.9 1359.0,1687.6 1359.5,1688.3 1360.0,1688.3 1360.5,1687.8 1361.0,1687.2 1361.5,1687.1 1362.0,1687.4 1362.5,1687.7 1363.0,1688.0 1363.5,1688.1 1364.0,1688.2 1364.5,1688.3 1365.0,1688.6 1365.5,1688.9 1366.0,1689.1 1366.5,1689.2 1367.0,1689.1 1367.5,1689.1 1368.0,1689.0 1368.5,1688.7 1369.0,1688.5 1369.5,1688.3 1370.0,1688.1 1370.5,1687.9 1371.0,1687.7 1371.5,1687.8 1372.0,1687.8 1372.5,1687.9 1373.0,1688.2 1373.5,1688.5 1374.0,1688.8 1374.5,1689.0 1375.0,1689.1 1375.5,1689.2 1376.0,1689.1 1376.5,1688.8 1377.0,1688.5 1377.5,1688.2 1378.0,1687.9 1378.5,1687.6 1379.0,1687.5 1379.5,1687.8 1380.0,1688.1 1380.5,1688.4 1381.0,1688.1 1381.5,1687.7 1382.0,1687.3 1382.5,1687.2 1383.0,1687.2 1383.5,1687.1 1384.0,1687.0 1384.5,1687.0 1385.0,1686.9 1385.5,1687.0 1386.0,1687.1 1386.5,1687.2 1387.0,1687.2 1387.5,1687.1 1388.0,1686.9 1388.5,1686.7 1389.0,1686.8 1389.5,1686.8 1390.0,1686.9 1390.5,1686.8 1391.0,1686.8 1391.5,1686.7 1392.0,1686.5 1392.5,1686.2 1393.0,1685.8 1393.5,1685.3 1394.0,1684.5 1394.5,1683.7 1395.0,1683.0 1395.5,1682.9 1396.0,1682.9 1396.5,1682.8 1397.0,1682.9 1397.5,1683.0 1398.0,1683.2 1398.5,1682.9 1399.0,1682.5 1399.5,1682.2 1400.0,1682.1 1400.5,1682.2 1401.0,1682.3 1401.5,1682.0 1402.0,1681.0 1402.5,1680.1 1403.0,1679.2 1403.5,1678.7 1404.0,1678.1 1404.5,1677.5 1405.0,1677.1 1405.5,1676.7 1406.0,1676.3 1406.5,1675.7 1407.0,1675.0 1407.5,1674.3 1408.0,1673.4 1408.5,1672.4 1409.0,1671.3 1409.5,1670.4 1410.0,1669.8 1410.5,1669.2 1411.0,1668.5 1411.5,1667.4 1412.0,1666.3 1412.5,1665.3 1413.0,1664.7 1413.5,1664.2 1414.0,1663.8 1414.5,1663.8 1415.0,1664.0 1415.5,1664.2 1416.0,1664.0 1416.4,1663.4 1416.5,1663.3 1417.0,1662.8 1417.5,1662.8 1418.0,1663.6 1418.5,1664.4 1419.0,1665.2 1419.5,1665.6 1420.0,1666.1 1420.5,1666.6 1421.0,1667.3 1421.5,1668.0 1422.0,1668.7 1422.5,1669.5 1423.0,1670.3 1423.5,1671.1 1424.0,1671.9 1424.5,1672.6 1425.0,1673.3 1425.5,1673.8 1426.0,1673.9 1426.5,1674.1 1427.0,1674.4 1427.5,1675.3 1428.0,1676.2 1428.5,1677.1 1429.0,1677.8 1429.5,1678.5 1430.0,1679.2 1430.5,1680.0 1431.0,1680.8 1431.5,1681.7 1432.0,1682.0 1432.5,1682.0 1433.0,1682.0 1433.5,1682.1 1434.0,1682.6 1434.5,1683.1 1435.0,1683.5 1435.5,1683.9 1436.0,1684.3 1436.5,1684.6 1437.0,1685.3 1437.5,1685.9 1438.0,1686.5 1438.5,1686.4 1439.0,1686.0 1439.5,1685.6 1440.0,1685.6 1440.5,1685.8 1441.0,1686.0 1441.5,1686.3 1442.0,1686.9 1442.5,1687.5 1443.0,1687.9 1443.5,1687.5 1444.0,1687.0 1444.5,1686.5 1445.0,1687.2 1445.5,1687.8 1446.0,1688.5 1446.5,1688.5 1447.0,1688.5 1447.5,1688.4 1448.0,1688.3 1448.5,1688.1 1449.0,1687.9 1449.5,1687.9 1450.0,1688.3 1450.5,1688.5 1451.0,1688.7 1451.5,1688.6 1452.0,1688.5 1452.5,1688.4 1453.0,1688.7 1453.5,1688.9 1454.0,1689.1 1454.5,1689.2 1455.0,1689.2 1455.5,1689.2 1456.0,1689.4 1456.5,1689.6 1457.0,1689.8 1457.5,1689.7 1458.0,1689.3 1458.5,1688.9 1459.0,1688.5 1459.5,1688.4 1460.0,1688.3 1460.5,1688.2 1461.0,1687.9 1461.5,1687.5 1462.0,1687.2 1462.5,1687.0 1463.0,1686.8 1463.5,1686.6 1464.0,1686.4 1464.5,1686.2 1465.0,1685.9 1465.5,1685.1 1466.0,1683.7 1466.5,1682.0 1467.0,1680.2 1467.5,1678.9 1468.0,1676.9 1468.5,1674.0 1469.0,1668.8 1469.5,1662.1 1470.0,1653.4 1470.5,1643.0 1471.0,1630.8 1471.5,1617.1 1472.0,1602.8 1472.5,1589.5 1473.0,1579.5 1473.5,1574.9 1473.6,1574.7 1474.0,1576.4 1474.5,1582.9 1475.0,1592.1 1475.5,1601.3 1476.0,1609.2 1476.5,1614.7 1477.0,1617.9 1477.5,1619.2 1478.0,1619.6 1478.5,1620.8 1479.0,1624.0 1479.5,1629.4 1480.0,1636.6 1480.5,1644.4 1481.0,1652.2 1481.5,1659.4 1482.0,1665.6 1482.5,1670.8 1483.0,1674.9 1483.5,1678.1 1484.0,1680.6 1484.5,1682.4 1485.0,1683.9 1485.5,1685.0 1486.0,1685.9 1486.5,1686.4 1487.0,1686.7 1487.5,1686.9 1488.0,1687.2 1488.5,1687.5 1489.0,1687.7 1489.5,1687.8 1490.0,1687.7 1490.5,1687.5 1491.0,1687.5 1491.5,1687.8 1492.0,1688.2 1492.5,1688.6 1493.0,1688.3 1493.5,1688.0 1494.0,1687.7 1494.5,1688.1 1495.0,1688.7 1495.5,1689.3 1496.0,1689.4 1496.5,1689.0 1497.0,1688.7 1497.5,1688.7 1498.0,1689.2 1498.5,1689.7 1499.0,1690.2 1499.5,1690.5 1500.0,1690.9 1500.5,1691.3 1501.0,1690.5 1501.5,1689.7 1502.0,1689.0 1502.5,1689.1 1503.0,1689.5 1503.5,1689.8 1504.0,1689.8 1504.5,1689.6 1505.0,1689.4 1505.5,1689.1 1506.0,1688.9 1506.5,1688.6 1507.0,1688.4 1507.5,1688.3 1508.0,1688.2 1508.5,1688.1 1509.0,1688.3 1509.5,1688.6 1510.0,1688.8 1510.5,1689.0 1511.0,1689.1 1511.5,1689.2 1512.0,1689.0 1512.5,1688.7 1513.0,1688.4 1513.5,1687.9 1514.0,1687.4 1514.5,1686.9 1515.0,1686.4 1515.5,1686.4 1516.0,1686.3 1516.5,1686.3 1517.0,1686.3 1517.5,1686.2 1518.0,1686.2 1518.5,1686.3 1519.0,1686.4 1519.5,1686.5 1520.0,1686.2 1520.5,1685.7 1521.0,1685.1 1521.5,1684.7 1522.0,1684.3 1522.5,1683.9 1523.0,1683.6 1523.5,1683.3 1524.0,1683.0 1524.5,1682.7 1525.0,1681.9 1525.5,1681.0 1526.0,1680.1 1526.5,1679.5 1527.0,1678.8 1527.5,1678.2 1528.0,1677.5 1528.5,1676.7 1529.0,1676.0 1529.5,1675.1 1530.0,1674.1 1530.5,1673.0 1531.0,1672.2 1531.5,1672.0 1532.0,1672.0 1532.5,1671.9 1533.0,1671.5 1533.5,1671.2 1534.0,1670.9 1534.5,1670.8 1535.0,1670.9 1535.1,1670.9 1535.5,1671.1 1536.0,1670.9 1536.5,1670.7 1537.0,1670.5 1537.5,1670.6 1538.0,1671.1 1538.5,1671.6 1539.0,1672.3 1539.5,1673.2 1540.0,1674.2 1540.5,1675.2 1541.0,1675.7 1541.5,1676.2 1542.0,1676.8 1542.5,1677.6 1543.0,1678.5 1543.5,1679.4 1544.0,1679.8 1544.5,1679.9 1545.0,1680.0 1545.5,1680.4 1546.0,1681.2 1546.5,1681.9 1547.0,1682.5 1547.5,1682.8 1548.0,1683.0 1548.5,1683.2 1549.0,1683.8 1549.5,1684.4 1550.0,1684.9 1550.5,1685.1 1551.0,1685.3 1551.5,1685.3 1552.0,1685.7 1552.5,1686.1 1553.0,1686.5 1553.5,1686.9 1554.0,1687.2 1554.5,1687.5 1555.0,1687.8 1555.5,1687.8 1556.0,1687.8 1556.5,1687.9 1557.0,1687.4 1557.5,1687.0 1558.0,1686.6 1558.5,1687.0 1559.0,1687.7 1559.5,1688.4 1560.0,1688.6 1560.5,1688.5 1561.0,1688.4 1561.5,1688.3 1562.0,1688.0 1562.5,1687.7 1563.0,1687.4 1563.5,1687.4 1564.0,1687.5 1564.5,1687.5 1565.0,1687.7 1565.5,1687.8 1566.0,1688.0 1566.5,1688.1 1567.0,1688.2 1567.5,1688.2 1568.0,1688.1 1568.5,1687.8 1569.0,1687.5 1569.5,1687.2 1570.0,1686.9 1570.5,1686.5 1571.0,1686.3 1571.5,1686.6 1572.0,1686.9 1572.5,1687.2 1573.0,1687.1 1573.5,1686.9 1574.0,1686.8 1574.5,1687.0 1575.0,1687.3 1575.5,1687.7 1576.0,1687.2 1576.5,1686.2 1577.0,1685.2 1577.5,1684.8 1578.0,1685.4 1578.5,1686.0 1579.0,1686.4 1579.5,1686.0 1580.0,1685.5 1580.5,1685.0 1581.0,1684.4 1581.5,1683.7 1582.0,1683.1 1582.5,1682.9 1583.0,1682.8 1583.5,1682.7 1584.0,1682.1 1584.5,1681.3 1585.0,1680.5 1585.5,1679.8 1586.0,1679.4 1586.5,1679.0 1587.0,1678.5 1587.5,1677.4 1588.0,1676.4 1588.5,1675.3 1589.0,1674.6 1589.5,1674.0 1590.0,1673.3 1590.5,1672.2 1591.0,1671.0 1591.5,1669.8 1592.0,1668.5 1592.5,1667.3 1593.0,1666.0 1593.5,1664.8 1594.0,1663.9 1594.5,1662.9 1595.0,1661.8 1595.5,1660.4 1596.0,1659.0 1596.5,1657.6 1597.0,1656.6 1597.5,1655.6 1598.0,1654.7 1598.5,1653.8 1599.0,1652.9 1599.5,1652.1 1600.0,1651.1 1600.5,1650.1 1601.0,1649.3 1601.5,1648.7 1602.0,1648.5 1602.5,1648.4 1602.6,1648.4 1603.0,1648.5 1603.5,1648.7 1604.0,1649.1 1604.5,1649.5 1605.0,1649.7 1605.5,1650.0 1606.0,1650.4 1606.5,1651.6 1607.0,1653.0 1607.5,1654.4 1608.0,1655.7 1608.5,1656.8 1609.0,1657.9 1609.5,1659.1 1610.0,1660.3 1610.5,1661.6 1611.0,1662.8 1611.5,1663.8 1612.0,1664.7 1612.5,1665.7 1613.0,1666.7 1613.5,1667.6 1614.0,1668.5 1614.5,1669.8 1615.0,1671.1 1615.5,1672.5 1616.0,1673.6 1616.5,1674.6 1617.0,1675.5 1617.5,1676.5 1618.0,1677.4 1618.5,1678.4 1619.0,1679.2 1619.5,1679.8 1620.0,1680.3 1620.5,1680.9 1621.0,1681.5 1621.5,1682.0 1622.0,1682.6 1622.5,1682.9 1623.0,1683.1 1623.5,1683.2 1624.0,1683.6 1624.5,1684.2 1625.0,1684.7 1625.5,1685.0 1626.0,1685.0 1626.5,1685.0 1627.0,1685.1 1627.5,1685.5 1628.0,1686.0 1628.5,1686.4 1629.0,1686.7 1629.5,1687.0 1630.0,1687.3 1630.5,1687.8 1631.0,1688.4 1631.5,1688.9 1632.0,1688.9 1632.5,1688.6 1633.0,1688.2 1633.5,1687.9 1634.0,1687.7 1634.5,1687.5 1635.0,1687.5 1635.5,1688.2 1636.0,1688.9 1636.5,1689.6 1637.0,1689.2 1637.5,1688.9 1638.0,1688.5 1638.5,1688.6 1639.0,1688.9 1639.5,1689.1 1640.0,1689.3 1640.5,1689.3 1641.0,1689.3 1641.5,1689.3 1642.0,1689.2 1642.5,1689.2 1643.0,1689.2 1643.5,1689.8 1644.0,1690.4 1644.5,1690.9 1645.0,1690.8 1645.5,1690.7 1646.0,1690.6 1646.5,1690.4 1647.0,1690.2 1647.5,1690.0 1648.0,1690.0 1648.5,1690.2 1649.0,1690.4 1649.5,1690.5 1650.0,1690.4 1650.5,1690.3 1651.0,1690.3 1651.5,1690.6 1652.0,1690.9 1652.5,1691.1 1653.0,1690.9 1653.5,1690.7 1654.0,1690.5 1654.5,1690.5 1655.0,1690.4 1655.5,1690.3 1656.0,1690.3 1656.5,1690.4 1657.0,1690.4 1657.5,1690.5 1658.0,1690.6 1658.5,1690.6 1659.0,1690.7 1659.5,1690.9 1660.0,1691.0 1660.5,1691.2 1661.0,1691.0 1661.5,1690.7 1662.0,1690.4 1662.5,1690.5 1663.0,1690.7 1663.5,1690.9 1664.0,1691.1 1664.5,1691.2 1665.0,1691.3 1665.5,1691.5 1666.0,1691.9 1666.5,1692.3 1667.0,1692.6 1667.5,1692.3 1668.0,1691.9 1668.5,1691.6 1669.0,1690.7 1669.5,1689.9 1670.0,1689.0 1670.5,1689.3 1671.0,1689.8 1671.5,1690.3 1672.0,1690.5 1672.5,1690.5 1673.0,1690.5 1673.5,1690.5 1674.0,1690.6 1674.5,1690.8 1675.0,1690.9 1675.5,1691.1 1676.0,1691.3 1676.5,1691.5 1677.0,1691.3 1677.5,1691.0 1678.0,1690.8 1678.5,1690.1 1679.0,1689.3 1679.5,1688.5 1680.0,1688.5 1680.5,1688.9 1681.0,1689.4 1681.5,1689.5 1682.0,1689.3 1682.5,1689.0 1683.0,1688.8 1683.5,1688.6 1684.0,1688.4 1684.5,1688.1 1685.0,1687.9 1685.5,1687.6 1686.0,1687.2 1686.5,1686.1 1687.0,1684.6 1687.5,1682.9 1688.0,1681.4 1688.5,1680.0 1689.0,1677.9 1689.5,1674.9 1690.0,1670.4 1690.5,1665.2 1691.0,1659.5 1691.5,1653.8 1692.0,1647.6 1692.5,1641.0 1693.0,1634.3 1693.5,1628.2 1694.0,1623.3 1694.5,1620.4 1695.0,1619.3 1695.5,1619.8 1696.0,1620.4 1696.5,1620.6 1697.0,1620.3 1697.5,1619.3 1698.0,1617.5 1698.5,1614.8 1699.0,1611.9 1699.5,1609.8 1700.0,1608.8 1700.2,1608.8 1700.5,1609.7 1701.0,1612.2 1701.5,1617.0 1702.0,1623.5 1702.5,1631.6 1703.0,1640.1 1703.5,1648.4 1704.0,1655.5 1704.5,1661.4 1705.0,1666.5 1705.5,1670.8 1706.0,1674.6 1706.5,1677.6 1707.0,1680.0 1707.5,1682.3 1708.0,1684.2 1708.5,1685.8 1709.0,1686.4 1709.5,1686.9 1710.0,1687.2 1710.5,1687.8 1711.0,1688.4 1711.5,1688.9 1712.0,1689.0 1712.5,1688.7 1713.0,1688.5 1713.5,1688.6 1714.0,1689.5 1714.5,1690.3 1715.0,1690.9 1715.5,1690.6 1716.0,1690.2 1716.5,1689.9 1717.0,1690.3 1717.5,1690.7 1718.0,1691.1 1718.5,1691.0 1719.0,1690.6 1719.5,1690.3 1720.0,1690.2 1720.5,1690.1 1721.0,1690.0 1721.5,1690.1 1722.0,1690.5 1722.5,1690.8 1723.0,1691.1 1723.5,1691.3 1724.0,1691.4 1724.5,1691.5 1725.0,1691.9 1725.5,1692.2 1726.0,1692.6 1726.5,1692.4 1727.0,1692.2 1727.5,1692.0 1728.0,1691.9 1728.5,1692.0 1729.0,1692.1 1729.5,1692.2 1730.0,1692.2 1730.5,1692.2 1731.0,1692.3 1731.5,1692.9 1732.0,1693.4 1732.5,1694.0 1733.0,1693.2 1733.5,1692.3 1734.0,1691.5 1734.5,1691.7 1735.0,1692.1 1735.5,1692.6 1736.0,1692.6 1736.5,1692.3 1737.0,1692.0 1737.5,1691.9 1738.0,1692.0 1738.5,1692.1 1739.0,1692.1 1739.5,1692.0 1740.0,1691.8 1740.5,1691.6 1741.0,1691.9 1741.5,1692.3 1742.0,1692.7 1742.5,1692.3 1743.0,1691.7 1743.5,1691.2 1744.0,1690.9 1744.5,1690.9 1745.0,1690.9 1745.5,1690.9 1746.0,1691.1 1746.5,1691.4 1747.0,1691.5 1747.5,1691.3 1748.0,1691.0 1748.5,1690.8 1749.0,1691.2 1749.5,1691.6 1750.0,1691.9 1750.5,1692.0 1751.0,1692.1 1751.5,1692.1 1752.0,1691.8 1752.5,1691.5 1753.0,1691.1 1753.5,1690.9 1754.0,1691.3 1754.5,1691.6 1755.0,1691.7 1755.5,1691.4 1756.0,1691.1 1756.5,1690.7 1757.0,1690.8 1757.5,1690.9 1758.0,1691.0 1758.5,1691.0 1759.0,1691.0 1759.5,1691.0 1760.0,1691.2 1760.5,1691.6 1761.0,1692.0 1761.5,1692.0 1762.0,1691.6 1762.5,1691.2 1763.0,1690.8 1763.5,1690.5 1764.0,1690.3 1764.5,1690.1 1765.0,1690.0 1765.5,1690.0 1766.0,1690.0 1766.5,1690.3 1767.0,1690.8 1767.5,1691.2 1768.0,1691.0 1768.5,1690.3 1769.0,1689.6 1769.5,1689.3 1770.0,1689.6 1770.5,1689.8 1771.0,1690.0 1771.5,1690.0 1772.0,1690.0 1772.5,1690.0 1773.0,1689.5 1773.5,1689.0 1774.0,1688.5 1774.5,1688.7 1775.0,1689.1 1775.5,1689.5 1776.0,1689.9 1776.5,1690.1 1777.0,1690.4 1777.5,1690.5 1778.0,1690.3 1778.5,1690.1 1779.0,1689.9 1779.5,1689.6 1780.0,1689.3 1780.5,1689.1 1781.0,1689.4 1781.5,1689.7 1782.0,1690.0 1782.5,1690.0 1783.0,1689.9 1783.5,1689.9 1784.0,1690.0 1784.5,1690.3 1785.0,1690.6 1785.5,1690.5 1786.0,1689.9 1786.5,1689.2 1787.0,1688.7 1787.5,1688.8 1788.0,1688.8 1788.5,1688.8 1789.0,1688.9 1789.5,1689.0 1790.0,1689.0 1790.5,1689.0 1791.0,1689.0 1791.5,1689.0 1792.0,1689.0 1792.5,1689.1 1793.0,1689.1 1793.5,1689.1 1794.0,1689.1 1794.5,1689.1 1795.0,1689.0 1795.5,1688.9 1796.0,1688.8 1796.5,1688.7 1797.0,1688.5 1797.5,1688.3 1798.0,1688.1 1798.5,1688.2 1799.0,1688.4 1799.5,1688.7 1800.0,1688.6 1800.5,1688.4 1801.0,1688.2 1801.5,1688.1 1802.0,1688.2 1802.5,1688.2 1803.0,1688.3 1803.5,1688.3 1804.0,1688.4 1804.5,1688.4 1805.0,1688.6 1805.5,1688.7 1806.0,1688.8 1806.5,1688.8 1807.0,1688.7 1807.5,1688.5 1808.0,1687.9 1808.5,1687.0 1809.0,1686.0 1809.5,1685.0 1810.0,1684.3 1810.5,1683.2 1811.0,1681.7 1811.5,1679.7 1812.0,1677.4 1812.5,1674.8 1813.0,1671.7 1813.5,1668.7 1814.0,1666.0 1814.5,1663.9 1815.0,1662.8 1815.1,1662.7 1815.5,1662.7 1816.0,1663.8 1816.5,1665.5 1817.0,1667.5 1817.5,1669.7 1818.0,1672.0 1818.5,1673.9 1819.0,1675.2 1819.5,1675.5 1820.0,1675.6 1820.5,1675.5 1821.0,1675.4 1821.5,1675.6 1822.0,1676.2 1822.5,1677.1 1823.0,1678.3 1823.5,1679.6 1824.0,1681.4 1824.5,1683.4 1825.0,1685.3 1825.5,1686.8 1826.0,1687.7 1826.5,1688.4 1827.0,1689.0 1827.5,1689.2 1828.0,1689.3 1828.5,1689.3 1829.0,1689.5 1829.5,1689.7 1830.0,1689.8 1830.5,1689.6 1831.0,1689.4 1831.5,1689.1 1832.0,1689.4 1832.5,1690.1 1833.0,1690.7 1833.5,1690.9 1834.0,1690.5 1834.5,1690.0 1835.0,1689.8 1835.5,1690.3 1836.0,1690.9 1836.5,1691.4 1837.0,1691.5 1837.5,1691.5 1838.0,1691.6 1838.5,1691.5 1839.0,1691.4 1839.5,1691.3 1840.0,1691.5 1840.5,1691.9 1841.0,1692.2 1841.5,1692.3 1842.0,1691.9 1842.5,1691.5 1843.0,1691.2 1843.5,1691.5 1844.0,1691.7 1844.5,1691.9 1845.0,1692.0 1845.5,1692.1 1846.0,1692.1 1846.5,1692.1 1847.0,1692.0 1847.5,1691.9 1848.0,1691.8 1848.5,1691.6 1849.0,1691.5 1849.5,1691.6 1850.0,1692.0 1850.5,1692.4 1851.0,1692.6 1851.5,1692.5 1852.0,1692.3 1852.5,1692.1 1853.0,1692.0 1853.5,1691.9 1854.0,1691.8 1854.5,1691.8 1855.0,1691.8 1855.5,1691.8 1856.0,1691.9 1856.5,1691.9 1857.0,1692.0 1857.5,1692.2 1858.0,1692.7 1858.5,1693.2 1859.0,1693.5 1859.5,1693.0 1860.0,1692.5 1860.5,1692.0 1861.0,1691.9 1861.5,1691.8 1862.0,1691.7 1862.5,1691.5 1863.0,1691.3 1863.5,1691.1 1864.0,1691.0 1864.5,1690.9 1865.0,1690.9 1865.5,1690.7 1866.0,1690.6 1866.5,1690.4 1867.0,1690.3 1867.5,1690.7 1868.0,1691.1 1868.5,1691.6 1869.0,1691.5 1869.5,1691.4 1870.0,1691.2 1870.5,1691.0 1871.0,1690.7 1871.5,1690.4 1872.0,1690.2 1872.5,1690.0 1873.0,1689.8 1873.5,1689.8 1874.0,1690.0 1874.5,1690.1 1875.0,1690.2 1875.5,1690.1 1876.0,1689.9 1876.5,1689.8 1877.0,1689.5 1877.5,1689.2 1878.0,1688.9 1878.5,1689.0 1879.0,1689.3 1879.5,1689.5 1880.0,1689.5 1880.5,1689.3 1881.0,1689.2 1881.5,1689.0 1882.0,1688.8 1882.5,1688.6 1883.0,1688.5 1883.5,1688.5 1884.0,1688.6 1884.5,1688.7 1885.0,1688.2 1885.5,1687.8 1886.0,1687.4 1886.5,1687.6 1887.0,1687.9 1887.5,1688.3 1888.0,1688.1 1888.5,1687.6 1889.0,1687.0 1889.5,1686.8 1890.0,1687.1 1890.0,1687.1 1890.5,1687.5 1891.0,1687.8 1891.5,1687.8 1892.0,1687.9 1892.5,1688.0 1893.0,1687.9 1893.5,1687.7 1894.0,1687.6 1894.5,1687.8 1895.0,1688.0 1895.5,1688.2 1896.0,1688.2 1896.5,1688.0 1897.0,1687.7 1897.5,1687.6 1898.0,1687.7 1898.5,1687.8 1899.0,1687.9 1899.5,1688.3 1900.0,1688.7 1900.5,1689.1 1901.0,1689.1 1901.5,1689.2 1902.0,1689.2 1902.5,1689.5 1903.0,1689.9 1903.5,1690.3 1904.0,1690.4 1904.5,1690.4 1905.0,1690.4 1905.5,1690.4 1906.0,1690.7 1906.5,1690.9 1907.0,1691.1 1907.5,1691.1 1908.0,1691.1 1908.5,1691.1 1909.0,1691.1 1909.5,1691.2 1910.0,1691.2 1910.5,1691.2 1911.0,1691.3 1911.5,1691.3 1912.0,1691.3 1912.5,1691.2 1913.0,1691.2 1913.5,1691.1 1914.0,1691.2 1914.5,1691.2 1915.0,1691.3 1915.5,1691.9 1916.0,1692.5 1916.5,1693.0 1917.0,1692.2 1917.5,1691.4 1918.0,1690.6 1918.5,1690.8 1919.0,1691.1 1919.5,1691.5 1920.0,1691.8 1920.5,1692.1 1921.0,1692.4 1921.5,1692.5 1922.0,1692.4 1922.5,1692.3 1923.0,1692.2 1923.5,1692.4 1924.0,1692.7 1924.5,1692.9 1925.0,1692.7 1925.5,1692.5 1926.0,1692.4 1926.5,1692.0 1927.0,1691.6 1927.5,1691.2 1928.0,1691.2 1928.5,1691.4 1929.0,1691.6 1929.5,1691.7 1930.0,1691.4 1930.5,1691.2 1931.0,1691.1 1931.5,1691.6 1932.0,1692.1 1932.5,1692.6 1933.0,1692.6 1933.5,1692.7 1934.0,1692.8 1934.5,1692.5 1935.0,1692.0 1935.5,1691.6 1936.0,1691.5 1936.5,1691.7 1937.0,1691.9 1937.5,1691.9 1938.0,1691.7 1938.5,1691.4 1939.0,1691.2 1939.5,1690.9 1940.0,1690.7 1940.5,1690.4 1941.0,1690.6 1941.5,1690.8 1942.0,1691.0 1942.5,1690.8 1943.0,1690.5 1943.5,1690.2 1944.0,1690.2 1944.5,1690.4 1945.0,1690.5 1945.5,1690.7 1946.0,1690.8 1946.5,1690.9 1947.0,1691.1 1947.5,1691.1 1948.0,1691.2 1948.5,1691.2 1949.0,1691.3 1949.5,1691.4 1950.0,1691.4 1950.5,1691.1 1951.0,1690.7 1951.5,1690.3 1952.0,1690.1 1952.5,1690.2 1953.0,1690.3 1953.5,1690.3 1954.0,1690.2 1954.5,1690.2 1955.0,1690.2 1955.5,1690.1 1956.0,1690.1 1956.5,1690.0 1957.0,1689.2 1957.5,1688.3 1958.0,1687.5 1958.5,1687.6 1959.0,1687.9 1959.5,1688.3 1960.0,1688.6 1960.5,1688.8 1961.0,1689.0 1961.5,1688.9 1962.0,1688.4 1962.5,1687.8 1963.0,1687.4 1963.5,1687.6 1964.0,1687.8 1964.5,1687.9 1965.0,1687.9 1965.5,1687.9 1966.0,1687.9 1966.5,1687.3 1967.0,1686.5 1967.5,1685.7 1968.0,1685.6 1968.5,1685.8 1969.0,1686.0 1969.5,1686.1 1970.0,1686.0 1970.5,1686.0 1971.0,1685.9 1971.5,1685.7 1972.0,1685.5 1972.5,1685.3 1973.0,1684.8 1973.5,1684.4 1974.0,1683.9 1974.5,1684.1 1975.0,1684.4 1975.5,1684.7 1976.0,1684.7 1976.5,1684.4 1977.0,1684.2 1977.5,1684.1 1978.0,1684.4 1978.5,1684.7 1979.0,1684.9 1979.0,1684.9 1979.5,1684.8 1980.0,1684.8 1980.5,1684.7 1981.0,1684.5 1981.5,1684.4 1982.0,1684.2 1982.5,1684.4 1983.0,1684.6 1983.5,1684.8 1984.0,1684.9 1984.5,1684.8 1985.0,1684.7 1985.5,1684.7 1986.0,1684.8 1986.5,1684.9 1987.0,1684.9 1987.5,1684.9 1988.0,1684.8 1988.5,1684.7 1989.0,1685.1 1989.5,1685.5 1990.0,1685.9 1990.5,1686.3 1991.0,1686.6 1991.5,1686.9 1992.0,1687.0 1992.5,1687.0 1993.0,1686.9 1993.5,1686.9 1994.0,1687.0 1994.5,1687.0 1995.0,1687.1 1995.5,1687.0 1996.0,1686.9 1996.5,1686.9 1997.0,1687.0 1997.5,1687.0 1998.0,1687.1 1998.5,1687.4 1999.0,1687.7 1999.5,1688.1 2000.0,1687.9 2000.5,1687.5 2001.0,1687.0 2001.5,1687.1 2002.0,1687.9 2002.5,1688.7 2003.0,1689.2 2003.5,1688.8 2004.0,1688.3 2004.5,1687.9 2005.0,1688.4 2005.5,1688.9 2006.0,1689.4 2006.5,1689.4 2007.0,1689.2 2007.5,1689.0 2008.0,1688.7 2008.5,1688.4 2009.0,1688.0 2009.5,1687.9 2010.0,1688.2 2010.5,1688.4 2011.0,1688.6 2011.5,1688.5 2012.0,1688.4 2012.5,1688.2 2013.0,1688.2 2013.5,1688.2 2014.0,1688.2 2014.5,1688.2 2015.0,1688.2 2015.5,1688.2 2016.0,1688.0 2016.5,1687.6 2017.0,1687.1 2017.5,1686.8 2018.0,1686.6 2018.5,1686.4 2019.0,1686.1 2019.5,1685.8 2020.0,1685.5 2020.5,1685.1 2021.0,1684.2 2021.5,1683.2 2022.0,1681.9 2022.5,1680.5 2023.0,1678.8 2023.5,1676.5 2024.0,1673.3 2024.5,1669.4 2025.0,1664.5 2025.5,1658.9 2026.0,1652.5 2026.5,1645.8 2027.0,1639.2 2027.5,1633.4 2028.0,1629.2 2028.5,1627.5 2028.6,1627.4 2029.0,1628.3 2029.5,1631.4 2030.0,1636.0 2030.5,1641.5 2031.0,1646.9 2031.5,1651.6 2032.0,1654.6 2032.5,1656.1 2033.0,1656.3 2033.5,1655.8 2034.0,1655.1 2034.5,1654.0 2035.0,1652.9 2035.5,1652.2 2036.0,1652.7 2036.5,1654.5 2037.0,1657.7 2037.5,1661.6 2038.0,1665.8 2038.5,1669.7 2039.0,1673.3 2039.5,1676.4 2040.0,1679.2 2040.5,1681.5 2041.0,1683.3 2041.5,1684.7 2042.0,1685.6 2042.5,1686.3 2043.0,1686.9 2043.5,1687.6 2044.0,1688.2 2044.5,1688.7 2045.0,1688.6 2045.5,1688.4 2046.0,1688.2 2046.5,1688.4 2047.0,1688.8 2047.5,1689.2 2048.0,1689.2 2048.5,1688.8 2049.0,1688.4 2049.5,1688.6 2050.0,1689.5 2050.5,1690.4 2051.0,1691.2 2051.5,1691.2 2052.0,1691.3 2052.5,1691.3 2053.0,1690.9 2053.5,1690.5 2054.0,1690.1 2054.5,1690.0 2055.0,1690.0 2055.5,1690.0 2056.0,1689.8 2056.5,1689.6 2057.0,1689.4 2057.5,1689.3 2058.0,1689.5 2058.5,1689.6 2059.0,1689.8 2059.5,1690.2 2060.0,1690.6 2060.5,1691.0 2061.0,1690.9 2061.5,1690.9 2062.0,1690.8 2062.5,1690.6 2063.0,1690.3 2063.5,1690.0 2064.0,1690.0 2064.5,1690.2 2065.0,1690.5 2065.5,1690.6 2066.0,1690.5 2066.5,1690.5 2067.0,1690.5 2067.5,1690.8 2068.0,1691.0 2068.5,1691.2 2069.0,1691.3 2069.5,1691.3 2070.0,1691.4 2070.5,1691.2"/></defs>
<g fill="none" stroke-linejoin="round"><use href="#sa" stroke="#b4b4b4" stroke-width="5"/><use href="#sb" stroke="#b4b4b4" stroke-width="5"/><use href="#sa" stroke="#000" stroke-width="2.8"/><use href="#sb" stroke="#000" stroke-width="2.8"/></g>
<rect x="170" y="18" width="1905.2" height="9" fill="#a3a3a3"/>
<rect x="170" y="21" width="1905.2" height="3" fill="#000"/>
<rect x="170" y="1699.3" width="1905.2" height="8.9" fill="#a0a0a0"/>
<rect x="170" y="1702.4" width="1905.2" height="3" fill="#000"/>
<rect x="167" y="18" width="3" height="1708" fill="#e6e6e6"/>
<rect x="173" y="24" width="2.5" height="1702" fill="#666"/>
<rect x="170" y="21" width="3" height="1705" fill="#000"/>
<rect x="2069.2" y="24" width="2.9" height="1702" fill="#555"/>
<rect x="2072.1" y="21" width="3.1" height="1705" fill="#000"/>
<rect x="200.06" y="1705" width="8.2" height="13.3" fill="#a6a6a6"/>
<rect x="202.76" y="1705" width="2.8" height="12.5" fill="#000"/>
<rect x="231.72" y="1705" width="8.2" height="13.3" fill="#a6a6a6"/>
<rect x="234.42" y="1705" width="2.8" height="12.5" fill="#000"/>
<rect x="263.38" y="1705" width="8.2" height="13.3" fill="#a6a6a6"/>
<rect x="266.08" y="1705" width="2.8" height="12.5" fill="#000"/>
<rect x="295.03" y="1705" width="8.2" height="13.3" fill="#a6a6a6"/>
<rect x="297.73" y="1705" width="2.8" height="12.5" fill="#000"/>
<rect x="326.69" y="1705" width="8.2" height="21.8" fill="#a6a6a6"/>
<rect x="329.39" y="1705" width="2.8" height="21.0" fill="#000"/>
<rect x="358.35" y="1705" width="8.2" height="13.3" fill="#a6a6a6"/>
<rect x="361.05" y="1705" width="2.8" height="12.5" fill="#000"/>
<rect x="390.01" y="1705" width="8.2" height="13.3" fill="#a6a6a6"/>
<rect x="392.71" y="1705" width="2.8" height="12.5" fill="#000"/>
<rect x="421.67" y="1705" width="8.2" height="13.3" fill="#a6a6a6"/>
<rect x="424.37" y="1705" width="2.8" height="12.5" fill="#000"/>
<rect x="453.32" y="1705" width="8.2" height="13.3" fill="#a6a6a6"/>
<rect x="456.03" y="1705" width="2.8" height="12.5" fill="#000"/>
<rect x="484.98" y="1705" width="8.2" height="21.8" fill="#a6a6a6"/>
<rect x="487.68" y="1705" width="2.8" height="21.0" fill="#000"/>
<rect x="516.64" y="1705" width="8.2" height="13.3" fill="#a6a6a6"/>
<rect x="519.34" y="1705" width="2.8" height="12.5" fill="#000"/>
<rect x="548.30" y="1705" width="8.2" height="13.3" fill="#a6a6a6"/>
<rect x="551.00" y="1705" width="2.8" height="12.5" fill="#000"/>
<rect x="579.96" y="1705" width="8.2" height="13.3" fill="#a6a6a6"/>
<rect x="582.66" y="1705" width="2.8" height="12.5" fill="#000"/>
<rect x="611.62" y="1705" width="8.2" height="13.3" fill="#a6a6a6"/>
<rect x="614.32" y="1705" width="2.8" height="12.5" fill="#000"/>
<rect x="643.27" y="1705" width="8.2" height="21.8" fill="#a6a6a6"/>
<rect x="645.98" y="1705" width="2.8" height="21.0" fill="#000"/>
<rect x="674.93" y="1705" width="8.2" height="13.3" fill="#a6a6a6"/>
<rect x="677.63" y="1705" width="2.8" height="12.5" fill="#000"/>
<rect x="706.59" y="1705" width="8.2" height="13.3" fill="#a6a6a6"/>
<rect x="709.29" y="1705" width="2.8" height="12.5" fill="#000"/>
<rect x="738.25" y="1705" width="8.2" height="13.3" fill="#a6a6a6"/>
<rect x="740.95" y="1705" width="2.8" height="12.5" fill="#000"/>
<rect x="769.91" y="1705" width="8.2" height="13.3" fill="#a6a6a6"/>
<rect x="772.61" y="1705" width="2.8" height="12.5" fill="#000"/>
<rect x="801.57" y="1705" width="8.2" height="21.8" fill="#a6a6a6"/>
<rect x="804.27" y="1705" width="2.8" height="21.0" fill="#000"/>
<rect x="833.23" y="1705" width="8.2" height="13.3" fill="#a6a6a6"/>
<rect x="835.93" y="1705" width="2.8" height="12.5" fill="#000"/>
<rect x="864.88" y="1705" width="8.2" height="13.3" fill="#a6a6a6"/>
<rect x="867.58" y="1705" width="2.8" height="12.5" fill="#000"/>
<rect x="896.54" y="1705" width="8.2" height="13.3" fill="#a6a6a6"/>
<rect x="899.24" y="1705" width="2.8" height="12.5" fill="#000"/>
<rect x="928.20" y="1705" width="8.2" height="13.3" fill="#a6a6a6"/>
<rect x="930.90" y="1705" width="2.8" height="12.5" fill="#000"/>
<rect x="959.86" y="1705" width="8.2" height="21.8" fill="#a6a6a6"/>
<rect x="962.56" y="1705" width="2.8" height="21.0" fill="#000"/>
<rect x="991.52" y="1705" width="8.2" height="13.3" fill="#a6a6a6"/>
<rect x="994.22" y="1705" width="2.8" height="12.5" fill="#000"/>
<rect x="1023.18" y="1705" width="8.2" height="13.3" fill="#a6a6a6"/>
<rect x="1025.88" y="1705" width="2.8" height="12.5" fill="#000"/>
<rect x="1054.83" y="1705" width="8.2" height="13.3" fill="#a6a6a6"/>
<rect x="1057.53" y="1705" width="2.8" height="12.5" fill="#000"/>
<rect x="1086.49" y="1705" width="8.2" height="13.3" fill="#a6a6a6"/>
<rect x="1089.19" y="1705" width="2.8" height="12.5" fill="#000"/>
<rect x="1118.15" y="1705" width="8.2" height="21.8" fill="#a6a6a6"/>
<rect x="1120.85" y="1705" width="2.8" height="21.0" fill="#000"/>
<rect x="1149.81" y="1705" width="8.2" height="13.3" fill="#a6a6a6"/>
<rect x="1152.51" y="1705" width="2.8" height="12.5" fill="#000"/>
<rect x="1181.47" y="1705" width="8.2" height="13.3" fill="#a6a6a6"/>
<rect x="1184.17" y="1705" width="2.8" height="12.5" fill="#000"/>
<rect x="1213.12" y="1705" width="8.2" height="13.3" fill="#a6a6a6"/>
<rect x="1215.82" y="1705" width="2.8" height="12.5" fill="#000"/>
<rect x="1244.78" y="1705" width="8.2" height="13.3" fill="#a6a6a6"/>
<rect x="1247.48" y="1705" width="2.8" height="12.5" fill="#000"/>
<rect x="1276.44" y="1705" width="8.2" height="21.8" fill="#a6a6a6"/>
<rect x="1279.14" y="1705" width="2.8" height="21.0" fill="#000"/>
<rect x="1308.10" y="1705" width="8.2" height="13.3" fill="#a6a6a6"/>
<rect x="1310.80" y="1705" width="2.8" height="12.5" fill="#000"/>
<rect x="1339.76" y="1705" width="8.2" height="13.3" fill="#a6a6a6"/>
<rect x="1342.46" y="1705" width="2.8" height="12.5" fill="#000"/>
<rect x="1371.42" y="1705" width="8.2" height="13.3" fill="#a6a6a6"/>
<rect x="1374.12" y="1705" width="2.8" height="12.5" fill="#000"/>
<rect x="1403.08" y="1705" width="8.2" height="13.3" fill="#a6a6a6"/>
<rect x="1405.77" y="1705" width="2.8" height="12.5" fill="#000"/>
<rect x="1434.73" y="1705" width="8.2" height="21.8" fill="#a6a6a6"/>
<rect x="1437.43" y="1705" width="2.8" height="21.0" fill="#000"/>
<rect x="1466.39" y="1705" width="8.2" height="13.3" fill="#a6a6a6"/>
<rect x="1469.09" y="1705" width="2.8" height="12.5" fill="#000"/>
<rect x="1498.05" y="1705" width="8.2" height="13.3" fill="#a6a6a6"/>
<rect x="1500.75" y="1705" width="2.8" height="12.5" fill="#000"/>
<rect x="1529.71" y="1705" width="8.2" height="13.3" fill="#a6a6a6"/>
<rect x="1532.41" y="1705" width="2.8" height="12.5" fill="#000"/>
<rect x="1561.37" y="1705" width="8.2" height="13.3" fill="#a6a6a6"/>
<rect x="1564.07" y="1705" width="2.8" height="12.5" fill="#000"/>
<rect x="1593.03" y="1705" width="8.2" height="21.8" fill="#a6a6a6"/>
<rect x="1595.72" y="1705" width="2.8" height="21.0" fill="#000"/>
<rect x="1624.68" y="1705" width="8.2" height="13.3" fill="#a6a6a6"/>
<rect x="1627.38" y="1705" width="2.8" height="12.5" fill="#000"/>
<rect x="1656.34" y="1705" width="8.2" height="13.3" fill="#a6a6a6"/>
<rect x="1659.04" y="1705" width="2.8" height="12.5" fill="#000"/>
<rect x="1688.00" y="1705" width="8.2" height="13.3" fill="#a6a6a6"/>
<rect x="1690.70" y="1705" width="2.8" height="12.5" fill="#000"/>
<rect x="1719.66" y="1705" width="8.2" height="13.3" fill="#a6a6a6"/>
<rect x="1722.36" y="1705" width="2.8" height="12.5" fill="#000"/>
<rect x="1751.32" y="1705" width="8.2" height="21.8" fill="#a6a6a6"/>
<rect x="1754.02" y="1705" width="2.8" height="21.0" fill="#000"/>
<rect x="1782.98" y="1705" width="8.2" height="13.3" fill="#a6a6a6"/>
<rect x="1785.67" y="1705" width="2.8" height="12.5" fill="#000"/>
<rect x="1814.63" y="1705" width="8.2" height="13.3" fill="#a6a6a6"/>
<rect x="1817.33" y="1705" width="2.8" height="12.5" fill="#000"/>
<rect x="1846.29" y="1705" width="8.2" height="13.3" fill="#a6a6a6"/>
<rect x="1848.99" y="1705" width="2.8" height="12.5" fill="#000"/>
<rect x="1877.95" y="1705" width="8.2" height="13.3" fill="#a6a6a6"/>
<rect x="1880.65" y="1705" width="2.8" height="12.5" fill="#000"/>
<rect x="1909.61" y="1705" width="8.2" height="21.8" fill="#a6a6a6"/>
<rect x="1912.31" y="1705" width="2.8" height="21.0" fill="#000"/>
<rect x="1941.27" y="1705" width="8.2" height="13.3" fill="#a6a6a6"/>
<rect x="1943.97" y="1705" width="2.8" height="12.5" fill="#000"/>
<rect x="1972.93" y="1705" width="8.2" height="13.3" fill="#a6a6a6"/>
<rect x="1975.62" y="1705" width="2.8" height="12.5" fill="#000"/>
<rect x="2004.58" y="1705" width="8.2" height="13.3" fill="#a6a6a6"/>
<rect x="2007.28" y="1705" width="2.8" height="12.5" fill="#000"/>
<rect x="2036.24" y="1705" width="8.2" height="13.3" fill="#a6a6a6"/>
<rect x="2038.94" y="1705" width="2.8" height="12.5" fill="#000"/>
<text x="172.5" y="1798.5" text-anchor="middle" class="tl">20</text>
<text x="330.8" y="1798.5" text-anchor="middle" class="tl">25</text>
<text x="489.1" y="1798.5" text-anchor="middle" class="tl">30</text>
<text x="647.4" y="1798.5" text-anchor="middle" class="tl">35</text>
<text x="805.7" y="1798.5" text-anchor="middle" class="tl">40</text>
<text x="964.0" y="1798.5" text-anchor="middle" class="tl">45</text>
<text x="1122.2" y="1798.5" text-anchor="middle" class="tl">50</text>
<text x="1280.5" y="1798.5" text-anchor="middle" class="tl">55</text>
<text x="1438.8" y="1798.5" text-anchor="middle" class="tl">60</text>
<text x="1597.1" y="1798.5" text-anchor="middle" class="tl">65</text>
<text x="1755.4" y="1798.5" text-anchor="middle" class="tl">70</text>
<text x="1913.7" y="1798.5" text-anchor="middle" class="tl">75</text>
<text x="2072.0" y="1798.5" text-anchor="middle" class="tl">80</text>
<ellipse cx="291.0" cy="774.6" rx="13.6" ry="14.5" fill="#000"/>
<circle cx="411.4" cy="662.4" r="12.8" fill="none" stroke="#333" stroke-width="2.2"/>
<polygon points="508.8,726.5 541.2,726.5 525.0,760.0" fill="#000"/>
<ellipse cx="576.8" cy="774.6" rx="13.6" ry="14.5" fill="#000"/>
<circle cx="618.2" cy="394.9" r="12.8" fill="none" stroke="#333" stroke-width="2.2"/>
<ellipse cx="649.3" cy="768.4" rx="13.6" ry="14.5" fill="#000"/>
<polygon points="683.1,653.0 715.5,653.0 699.3,686.5" fill="#000"/>
<ellipse cx="811.7" cy="791.4" rx="13.6" ry="14.5" fill="#000"/>
<polygon points="897.0,739.0 927.0,739.0 912.0,768.5" fill="none" stroke="#000" stroke-width="2.3" stroke-linejoin="miter"/>
<polygon points="927.8,62.5 960.2,62.5 944.0,96.0" fill="#000"/>
<circle cx="943.9" cy="131.3" r="12.8" fill="none" stroke="#333" stroke-width="2.2"/>
<ellipse cx="1082.0" cy="800.0" rx="13.6" ry="14.5" fill="#000"/>
<ellipse cx="1232.0" cy="791.0" rx="13.6" ry="14.5" fill="#000"/>
<circle cx="1341.0" cy="756.6" r="12.8" fill="none" stroke="#333" stroke-width="2.2"/>
<polygon points="1394.8,753.0 1427.2,753.0 1411.0,786.5" fill="#000"/>
<circle cx="1473.0" cy="705.6" r="12.8" fill="none" stroke="#333" stroke-width="2.2"/>
<polygon points="1514.4,771.5 1544.4,771.5 1529.4,801.0" fill="none" stroke="#000" stroke-width="2.3" stroke-linejoin="miter"/>
<polygon points="1582.2,729.5 1614.6,729.5 1598.4,763.0" fill="#000"/>
<circle cx="1696.4" cy="732.4" r="12.8" fill="none" stroke="#333" stroke-width="2.2"/>
<circle cx="1814.4" cy="786.4" r="12.8" fill="none" stroke="#333" stroke-width="2.2"/>
<circle cx="2029.0" cy="753.0" r="12.8" fill="none" stroke="#333" stroke-width="2.2"/>
<ellipse cx="291.0" cy="1580.6" rx="13.6" ry="14.5" fill="#000"/>
<circle cx="411.4" cy="1489.0" r="12.8" fill="none" stroke="#333" stroke-width="2.2"/>
<polygon points="508.8,1594.5 541.2,1594.5 525.0,1628.0" fill="#000"/>
<ellipse cx="574.5" cy="1588.8" rx="13.6" ry="14.5" fill="#000"/>
<circle cx="618.2" cy="1197.9" r="12.8" fill="none" stroke="#333" stroke-width="2.2"/>
<ellipse cx="649.4" cy="1578.0" rx="13.6" ry="14.5" fill="#000"/>
<polygon points="683.5,1494.2 715.9,1494.2 699.7,1527.7" fill="#000"/>
<ellipse cx="811.0" cy="1617.6" rx="13.6" ry="14.5" fill="#000"/>
<polygon points="896.5,1612.0 926.5,1612.0 911.5,1641.5" fill="none" stroke="#000" stroke-width="2.3" stroke-linejoin="miter"/>
<polygon points="927.8,846.8 960.2,846.8 944.0,880.3" fill="#000"/>
<circle cx="944.0" cy="915.0" r="12.8" fill="none" stroke="#333" stroke-width="2.2"/>
<ellipse cx="1082.4" cy="1624.0" rx="13.6" ry="14.5" fill="#000"/>
<ellipse cx="1232.0" cy="1603.6" rx="13.6" ry="14.5" fill="#000"/>
<circle cx="1341.0" cy="1592.0" r="12.8" fill="none" stroke="#333" stroke-width="2.2"/>
<polygon points="1397.2,1606.0 1429.6,1606.0 1413.4,1639.5" fill="#000"/>
<circle cx="1472.4" cy="1530.0" r="12.8" fill="none" stroke="#333" stroke-width="2.2"/>
<ellipse cx="1529.6" cy="1628.0" rx="13.6" ry="14.5" fill="#000"/>
<polygon points="1582.2,1588.5 1614.6,1588.5 1598.4,1622.0" fill="#000"/>
<circle cx="1696.4" cy="1564.4" r="12.8" fill="none" stroke="#333" stroke-width="2.2"/>
<circle cx="1814.4" cy="1624.0" r="12.8" fill="none" stroke="#333" stroke-width="2.2"/>
<circle cx="2029.0" cy="1583.0" r="12.8" fill="none" stroke="#333" stroke-width="2.2"/>
<circle cx="1730.0" cy="95.0" r="13.4" fill="none" stroke="#333" stroke-width="2.2"/>
<text transform="translate(1806.0,119.6) scale(1,1.061)" class="lg">TiB<tspan dy="19" class="sb">2</tspan></text>
<polygon points="1713.0,164.2 1747.0,164.2 1730.0,199.3" fill="#000"/>
<text transform="translate(1806.0,204.4) scale(1,1.061)" class="lg">MgAl<tspan dy="19" class="sb">2</tspan><tspan dy="-19">O</tspan><tspan dy="19" class="sb">4</tspan></text>
<circle cx="1730.5" cy="267.0" r="14.5" fill="#000"/>
<text transform="translate(1806.0,290.4) scale(1,1.061)" class="lg">MgTiO<tspan dy="18" class="sb">3</tspan></text>
<polygon points="1715.2,335.2 1746.8,335.2 1731.0,366.2" fill="none" stroke="#000" stroke-width="2.3" stroke-linejoin="miter"/>
<text transform="translate(1806.0,375.6) scale(1,1.061)" class="lg">MgO</text>
<text transform="translate(207.0,118.7) scale(1,1.061)" class="lg">TiO<tspan dy="17" class="sb">2</tspan><tspan dy="-17">/Al/Mg Thermite</tspan></text>
<text transform="translate(207.0,203.4) scale(1,1.061)" class="lg">(a) R1: Al<tspan dy="17" class="sb">2</tspan><tspan dy="-17">O</tspan><tspan dy="17" class="sb">3</tspan><tspan dy="-17"> addition</tspan></text>
<text transform="translate(207.0,991.0) scale(1,1.061)" class="lg">(b) R2: MgO addition</text>
<text transform="translate(1122.0,1921.8) scale(1,1.045)" class="ax" text-anchor="middle">2θ (degree)</text>
<text transform="translate(63,861) rotate(-90)" text-anchor="middle" class="ay">Intensity (a.u.)</text>
</svg>
</body></html>
